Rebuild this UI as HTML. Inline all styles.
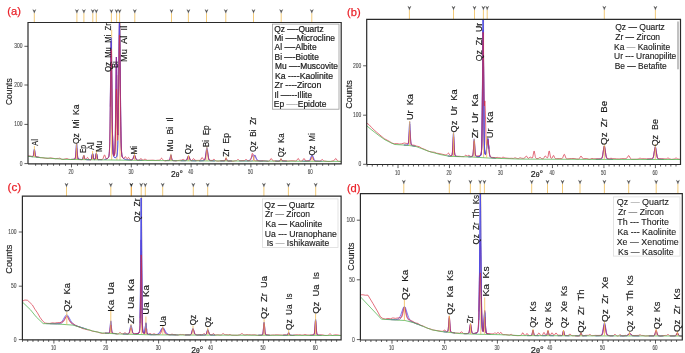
<!DOCTYPE html>
<html><head><meta charset="utf-8"><title>XRD patterns</title><style>
html,body{margin:0;padding:0;background:#fff;width:685px;height:353px;overflow:hidden;}
svg{display:block;}
text{font-family:"Liberation Sans",Arial,sans-serif;stroke:currentColor;stroke-width:0.22px;}
</style></head><body>
<svg width="685" height="353" viewBox="0 0 685 353">
<rect width="685" height="353" fill="#fff"/>
<clipPath id="ca"><rect x="28" y="22.5" width="313.2" height="141.3"/></clipPath>
<line x1="34.3" y1="13.2" x2="34.3" y2="22.5" stroke="#f1c46a" stroke-width="0.9"/>
<path d="M32.8,9.6 L34.3,10.8 L35.8,9.6 L34.3,12.8 Z M34.3,12.4 V13.4" fill="#4a4a4a" stroke="#4a4a4a" stroke-width="0.4"/>
<line x1="76.9" y1="13.2" x2="76.9" y2="22.5" stroke="#f1c46a" stroke-width="0.9"/>
<path d="M75.4,9.6 L76.9,10.8 L78.4,9.6 L76.9,12.8 Z M76.9,12.4 V13.4" fill="#4a4a4a" stroke="#4a4a4a" stroke-width="0.4"/>
<line x1="83.9" y1="13.2" x2="83.9" y2="22.5" stroke="#f1c46a" stroke-width="0.9"/>
<path d="M82.4,9.6 L83.9,10.8 L85.4,9.6 L83.9,12.8 Z M83.9,12.4 V13.4" fill="#4a4a4a" stroke="#4a4a4a" stroke-width="0.4"/>
<line x1="92.8" y1="13.2" x2="92.8" y2="22.5" stroke="#f1c46a" stroke-width="0.9"/>
<path d="M91.3,9.6 L92.8,10.8 L94.3,9.6 L92.8,12.8 Z M92.8,12.4 V13.4" fill="#4a4a4a" stroke="#4a4a4a" stroke-width="0.4"/>
<line x1="96.3" y1="13.2" x2="96.3" y2="22.5" stroke="#f1c46a" stroke-width="0.9"/>
<path d="M94.8,9.6 L96.3,10.8 L97.8,9.6 L96.3,12.8 Z M96.3,12.4 V13.4" fill="#4a4a4a" stroke="#4a4a4a" stroke-width="0.4"/>
<line x1="111.4" y1="13.2" x2="111.4" y2="22.5" stroke="#f1c46a" stroke-width="0.9"/>
<path d="M109.9,9.6 L111.4,10.8 L112.9,9.6 L111.4,12.8 Z M111.4,12.4 V13.4" fill="#4a4a4a" stroke="#4a4a4a" stroke-width="0.4"/>
<line x1="116.6" y1="13.2" x2="116.6" y2="22.5" stroke="#f1c46a" stroke-width="0.9"/>
<path d="M115.1,9.6 L116.6,10.8 L118.1,9.6 L116.6,12.8 Z M116.6,12.4 V13.4" fill="#4a4a4a" stroke="#4a4a4a" stroke-width="0.4"/>
<line x1="119.6" y1="13.2" x2="119.6" y2="22.5" stroke="#f1c46a" stroke-width="0.9"/>
<path d="M118.1,9.6 L119.6,10.8 L121.1,9.6 L119.6,12.8 Z M119.6,12.4 V13.4" fill="#4a4a4a" stroke="#4a4a4a" stroke-width="0.4"/>
<line x1="134.8" y1="13.2" x2="134.8" y2="22.5" stroke="#f1c46a" stroke-width="0.9"/>
<path d="M133.3,9.6 L134.8,10.8 L136.3,9.6 L134.8,12.8 Z M134.8,12.4 V13.4" fill="#4a4a4a" stroke="#4a4a4a" stroke-width="0.4"/>
<line x1="171.5" y1="13.2" x2="171.5" y2="22.5" stroke="#f1c46a" stroke-width="0.9"/>
<path d="M170,9.6 L171.5,10.8 L173,9.6 L171.5,12.8 Z M171.5,12.4 V13.4" fill="#4a4a4a" stroke="#4a4a4a" stroke-width="0.4"/>
<line x1="188.4" y1="13.2" x2="188.4" y2="22.5" stroke="#f1c46a" stroke-width="0.9"/>
<path d="M186.9,9.6 L188.4,10.8 L189.9,9.6 L188.4,12.8 Z M188.4,12.4 V13.4" fill="#4a4a4a" stroke="#4a4a4a" stroke-width="0.4"/>
<line x1="206.5" y1="13.2" x2="206.5" y2="22.5" stroke="#f1c46a" stroke-width="0.9"/>
<path d="M205,9.6 L206.5,10.8 L208,9.6 L206.5,12.8 Z M206.5,12.4 V13.4" fill="#4a4a4a" stroke="#4a4a4a" stroke-width="0.4"/>
<line x1="225.8" y1="13.2" x2="225.8" y2="22.5" stroke="#f1c46a" stroke-width="0.9"/>
<path d="M224.3,9.6 L225.8,10.8 L227.3,9.6 L225.8,12.8 Z M225.8,12.4 V13.4" fill="#4a4a4a" stroke="#4a4a4a" stroke-width="0.4"/>
<line x1="253.5" y1="13.2" x2="253.5" y2="22.5" stroke="#f1c46a" stroke-width="0.9"/>
<path d="M252,9.6 L253.5,10.8 L255,9.6 L253.5,12.8 Z M253.5,12.4 V13.4" fill="#4a4a4a" stroke="#4a4a4a" stroke-width="0.4"/>
<line x1="281.2" y1="13.2" x2="281.2" y2="22.5" stroke="#f1c46a" stroke-width="0.9"/>
<path d="M279.7,9.6 L281.2,10.8 L282.7,9.6 L281.2,12.8 Z M281.2,12.4 V13.4" fill="#4a4a4a" stroke="#4a4a4a" stroke-width="0.4"/>
<line x1="311.8" y1="13.2" x2="311.8" y2="22.5" stroke="#f1c46a" stroke-width="0.9"/>
<path d="M310.3,9.6 L311.8,10.8 L313.3,9.6 L311.8,12.8 Z M311.8,12.4 V13.4" fill="#4a4a4a" stroke="#4a4a4a" stroke-width="0.4"/>
<g clip-path="url(#ca)" fill="none" stroke-linejoin="round">
<line x1="111.7" y1="30" x2="111.7" y2="160.03" stroke="#f0bb55" stroke-width="0.8"/>
<line x1="116.9" y1="75" x2="116.9" y2="160.1" stroke="#f0bb55" stroke-width="0.8"/>
<line x1="120" y1="22.4" x2="120" y2="160.13" stroke="#f0bb55" stroke-width="0.8"/>
<path d="M28.6,156.34 32.2,156.62 32.7,156.55 33,156.32 33.3,155.64 33.5,154.77 34.1,150.54 34.3,149.62 34.4,149.5 34.7,150.6 35.3,154.97 35.5,155.88 35.8,156.62 36.1,156.92 36.7,157.12 40.2,157.59 M70.8,159.44 73.2,159.39 74.4,159.25 74.9,158.99 75.2,158.45 75.5,156.98 75.7,155.14 76.3,146.21 76.5,144.26 76.6,143.99 76.7,144.26 76.9,146.22 77.5,155.16 77.7,157.01 78,158.48 78.4,159.12 79,159.35 81.4,159.5 82,159.47 82.4,159.31 M78,158.48 78.4,159.12 79,159.35 81.1,159.5 81.9,159.48 82.3,159.37 82.6,159.09 82.8,158.7 83.5,156.05 83.8,155.46 84.1,156.06 84.7,158.46 84.9,158.96 85.2,159.36 85.5,159.51 86.1,159.6 89.6,159.67 M86.8,159.63 90.3,159.64 90.9,159.54 91.2,159.33 91.5,158.78 91.7,158.08 92.3,154.7 92.6,153.85 92.7,153.96 92.9,154.69 93.4,157.6 93.7,158.76 93.9,159.17 94.2,159.44 94.6,159.5 94.9,159.38 95.2,158.96 95.4,158.36 96.1,154.27 96.3,153.47 96.4,153.36 96.6,153.8 97.2,157.4 97.5,158.69 97.9,159.4 98.4,159.61 M90.6,159.61 91.1,159.43 91.5,158.78 91.8,157.61 92.3,154.7 92.6,153.85 92.8,154.25 93.4,157.6 93.8,159 94,159.3 94.3,159.48 94.7,159.48 95,159.28 95.3,158.7 95.5,157.94 96.1,154.27 96.3,153.47 96.4,153.36 96.7,154.29 97.4,158.34 97.8,159.3 98.1,159.53 98.7,159.64 102.2,159.68 M104.5,159.36 105.9,159.11 107,158.72 107.8,158.19 108.4,157.49 108.7,156.87 109,155.68 109.4,151.58 109.7,144.02 110,129.56 110.9,52.08 111.1,42.53 111.2,41.24 111.3,42.48 111.5,51.94 112.4,128.98 112.7,143.25 113.1,151.99 113.3,153.79 113.6,155.01 113.9,155.35 114.1,155.3 114.3,155.01 114.5,154.35 114.7,152.96 115,148.01 115.4,130.56 116.1,69.48 116.3,58.58 116.4,57.01 116.5,58.33 116.7,68.7 117.4,125.69 117.6,133.34 117.7,134.94 117.8,135.06 117.9,133.78 M110.3,106.65 110.9,52.08 111.1,42.53 111.2,41.24 111.3,42.48 111.5,51.94 112.3,122.32 112.7,143.25 113,150.59 113.3,153.79 113.6,155.01 113.8,155.3 114,155.35 114.3,155.01 114.6,153.78 114.8,151.81 115,148.01 115.3,136.47 116.1,69.48 116.3,58.58 116.4,57.01 116.5,58.33 116.7,68.7 117.4,125.69 117.6,133.34 117.7,134.94 117.8,135.06 118,131.12 118.3,115.33 119.1,39.17 119.3,25.53 119.5,20.63 119.6,21.99 119.8,31.89 120.6,110 121,136.72 121.3,147.42 121.6,152.79 122,155.82 122.5,157.23 M112.5,134.66 112.9,148.74 113.3,153.79 113.5,154.74 113.7,155.19 114,155.35 114.3,155.01 114.6,153.78 114.9,150.2 115.2,141.29 115.4,130.56 116.1,69.48 116.3,58.58 116.4,57.01 116.5,58.33 116.7,68.7 117.4,125.69 117.6,133.34 117.7,134.94 117.8,135.06 117.9,133.78 118.1,127.12 118.4,107.68 119.2,31.43 119.4,21.84 119.5,20.63 119.7,25.83 119.9,39.79 120.8,125.33 121.1,141.05 121.4,149.66 121.8,154.68 122.1,156.21 122.5,157.23 123.1,158.04 123.9,158.67 124.7,159.05 125.6,159.33 125.7,159.45 126.5,159.6 M126.6,159.62 129.9,159.98 131.5,159.97 132.2,159.78 132.6,159.44 132.9,158.98 134.1,155.58 134.3,155.22 134.5,155.09 134.8,155.49 135,155.96 136,158.94 136.3,159.49 136.7,159.92 137.2,160.15 137.9,160.25 142.4,160.39 M165.1,160.61 168.7,160.55 169.2,160.46 169.5,160.26 169.8,159.73 170,159.05 170.6,155.81 170.9,155 171.2,155.81 171.8,159.06 172,159.74 172.3,160.28 172.6,160.48 173.2,160.59 176.7,160.69 M180.6,160.72 185,160.69 185.7,160.63 186.2,160.47 186.6,160.16 186.9,159.73 188.1,156.65 188.3,156.32 188.5,156.2 188.7,156.32 188.9,156.65 190.1,159.76 190.4,160.18 190.8,160.5 191.3,160.66 192,160.73 196.4,160.82 M199,160.83 203.4,160.67 204.1,160.49 204.6,160.05 205,159.2 205.4,157.55 206.5,149.71 206.7,148.82 206.9,148.5 207.1,148.82 207.3,149.72 208.5,158.06 208.8,159.22 209.2,160.07 209.7,160.51 210.4,160.7 214.8,160.9 M220.3,160.95 223.8,160.94 224.7,160.81 225.2,160.28 225.8,158.85 226.1,158.5 226.4,158.86 227,160.29 227.5,160.82 228.3,160.96 231.9,161.01 M247.1,161.04 251.5,160.97 252.2,160.88 252.7,160.67 253.1,160.25 253.4,159.68 254.6,155.59 254.8,155.16 255,155 255.2,155.16 255.4,155.6 256.6,159.69 256.9,160.26 257.3,160.68 257.8,160.9 258.5,160.99 262.9,161.1 M275.2,161.16 278.8,161.14 279.6,161.03 280.1,160.56 280.7,159.31 281,159 281.3,159.31 281.9,160.57 282.4,161.04 283.2,161.16 286.8,161.2 M303.6,161.24 308.3,161.17 309.1,161.08 309.6,160.88 310,160.52 310.4,159.87 311.6,156.47 311.9,155.91 312.1,155.8 312.3,155.92 312.6,156.47 313.8,159.88 314.2,160.53 314.6,160.89 315.1,161.1 315.9,161.2 320.6,161.3" stroke="#8a2a9a" stroke-width="0.8" opacity="0.75"/>
<path d="M28.6,156.34 32.2,156.61 32.7,156.53 33,156.28 33.3,155.56 33.5,154.63 34.1,150.11 34.3,149.13 34.4,149 34.7,150.17 35.3,154.83 35.5,155.8 35.8,156.58 36.1,156.9 36.7,157.11 40.2,157.59 M70.8,159.44 73.2,159.38 74.4,159.23 74.9,158.97 75.2,158.39 75.5,156.85 75.7,154.91 76.3,145.52 76.5,143.47 76.6,143.19 76.7,143.48 76.9,145.53 77.5,154.93 77.7,156.88 78,158.42 78.4,159.1 79,159.33 81.4,159.5 82,159.46 82.4,159.29 M78,158.42 78.4,159.1 79,159.33 81.1,159.5 81.9,159.47 82.3,159.36 82.6,159.06 82.8,158.66 83.5,155.88 83.8,155.26 84.1,155.89 84.7,158.41 84.9,158.93 85.2,159.35 85.5,159.5 86.1,159.59 89.6,159.67 M86.8,159.63 90.3,159.63 90.9,159.53 91.2,159.32 91.5,158.74 91.7,158.02 92.3,154.52 92.5,153.76 92.6,153.65 92.7,153.76 92.9,154.52 93.4,157.53 93.7,158.73 93.9,159.15 94.2,159.44 94.6,159.5 94.9,159.37 95.2,158.95 95.4,158.36 96.1,154.27 96.3,153.47 96.4,153.36 96.6,153.8 97.2,157.4 97.5,158.68 97.9,159.4 98.4,159.6 M90.6,159.6 91.1,159.41 91.5,158.74 91.8,157.54 92.3,154.52 92.5,153.76 92.6,153.65 92.8,154.06 93.4,157.53 93.8,158.97 94,159.28 94.3,159.47 94.7,159.47 95,159.28 95.3,158.7 95.5,157.94 96.1,154.27 96.3,153.47 96.4,153.36 96.7,154.29 97.4,158.34 97.8,159.29 98.1,159.52 98.7,159.64 102.2,159.67 M104.5,159.42 105.9,159.18 107,158.8 107.8,158.29 108.4,157.59 108.7,156.96 109,155.75 109.4,151.53 109.7,143.73 110,128.81 110.9,48.8 111.1,38.95 111.2,37.64 111.3,38.94 111.5,48.75 112.4,128.63 112.7,143.5 113,151.23 113.4,155.37 113.7,156.51 114,157.06 114.6,157.55 115,157.67 115.4,157.66 116.1,157.33 116.7,156.53 117.1,155.14 117.4,152.65 117.7,147.23 117.9,140.75 M112.5,134.54 112.9,149.27 113.2,153.87 113.6,156.23 114.1,157.18 114.8,157.63 115.3,157.67 115.7,157.57 116.4,157.02 116.8,156.29 117.1,155.14 117.5,151.28 117.8,144.35 118.1,131.01 118.4,109.01 119.2,29.08 119.4,20.5 119.6,20.5 119.9,37.21 120.8,124.9 121.1,141.01 121.4,149.81 121.8,154.91 122.1,156.45 122.4,157.26 123,158.13 123.8,158.77 124.6,159.15 125.6,159.44 125.7,159.56 126.5,159.7 M126.6,159.71 128.5,159.9 130.6,159.98 131.6,159.95 132.2,159.76 132.6,159.41 132.9,158.93 134.1,155.4 134.3,155.02 134.5,154.89 134.8,155.3 135,155.79 136,158.89 136.3,159.46 136.7,159.91 137.2,160.14 137.9,160.25 142.4,160.39 M165.1,160.6 168.7,160.54 169.2,160.44 169.5,160.22 169.8,159.64 170,158.91 170.6,155.38 170.8,154.61 170.9,154.5 171,154.61 171.2,155.38 171.8,158.92 172,159.66 172.3,160.24 172.6,160.46 173.2,160.58 176.7,160.69 M180.6,160.72 185,160.68 185.7,160.61 186.2,160.44 186.6,160.1 186.9,159.64 188.1,156.29 188.3,155.93 188.5,155.8 188.7,155.93 188.9,156.29 190.1,159.66 190.4,160.12 190.8,160.47 191.3,160.65 192,160.72 196.4,160.82 M199,160.83 201.7,160.78 203.4,160.65 204.1,160.45 204.6,159.98 205,159.05 205.4,157.25 206.5,148.72 206.7,147.75 206.9,147.4 207.1,147.75 207.3,148.72 208.5,157.81 208.8,159.06 209.2,160 209.7,160.47 210.4,160.68 214.8,160.9 M220.3,160.95 223.8,160.93 224.7,160.79 225.2,160.22 225.8,158.67 226.1,158.29 226.4,158.67 227,160.22 227.5,160.8 228.4,160.94 231.9,160.99 M239.2,161 246.6,160.92 248,160.78 248.9,160.52 249.6,160.12 250.3,159.45 251.1,158.32 252.7,155.56 253.2,155 253.7,154.8 254.2,155 254.7,155.57 256.3,158.33 257.1,159.47 257.8,160.15 258.5,160.56 259.4,160.82 260.8,160.97 268.2,161.11 M275.2,161.14 278.7,161.13 279.6,161 280.1,160.5 280.7,159.13 281,158.79 281.3,159.13 281.9,160.5 282.4,161.02 283.7,161.17 286.8,161.2 M301.8,161.23 307.3,161.15 308.3,161.02 308.9,160.78 309.4,160.37 309.9,159.64 311.5,155.66 311.8,155.17 312.1,155 312.4,155.17 312.7,155.66 314.3,159.66 314.8,160.39 315.3,160.81 315.9,161.05 316.9,161.18 322.4,161.3" stroke="#4a4ae6" stroke-width="0.8" opacity="0.85"/>
<path d="M28,156 30.5,156.09 32.5,156.52 33,156.37 33.3,155.79 33.5,155.04 34.1,151.39 34.3,150.6 34.4,150.5 34.7,151.46 35.2,154.74 35.5,156.06 35.8,156.66 36.3,156.93 38,156.98 40.5,157.59 43,157.76 45.5,158.28 48,158.4 50.5,157.89 55.5,158.71 58,158.39 58.7,158.43 59.8,158.16 60.2,158.3 61.5,159.23 62.1,159.4 63,159.5 65.5,158.82 66.8,158.58 67.3,158.66 68.7,159.26 70.5,159.52 74.2,159.16 74.7,159.03 75,158.82 75.4,157.88 75.8,155.18 76.4,148.72 76.6,147.99 76.7,148.2 76.9,149.68 77.4,155.46 77.7,157.79 78,158.92 78.2,159.24 78.6,159.47 81.6,159.68 82.1,159.65 82.4,159.54 82.7,159.19 82.9,158.73 83.5,156.37 83.8,155.75 83.9,155.8 84.1,156.27 84.7,158.47 84.9,158.91 85.2,159.23 85.7,159.28 86.1,159.11 86.5,158.69 87.2,157.63 87.5,157.44 87.9,157.73 88.6,158.92 89,159.36 89.5,159.64 90.5,159.88 91.1,159.54 91.5,158.88 91.8,157.82 92.3,155.23 92.6,154.44 92.7,154.49 92.9,155.05 93.4,157.58 93.8,158.87 94,159.19 94.3,159.43 94.6,159.53 94.9,159.51 95.2,159.21 95.5,158.37 96.1,154.85 96.4,153.95 96.5,154.04 96.7,154.75 97.4,158.35 97.7,159.04 98.2,159.36 99.3,159.48 101.4,159.52 102.1,159.45 102.5,159.29 102.8,159.02 103.1,158.53 104.1,155.53 104.3,155.12 104.6,154.91 104.9,155.43 105.7,157.84 106.2,158.63 106.6,158.79 107.1,158.68 107.7,158.3 108.3,157.7 108.6,157.22 108.9,156.35 109.3,153.45 109.6,147.97 109.8,141.39 110.2,118.19 110.9,59.45 111.1,50.57 111.2,49.39 111.3,50.55 111.5,59.38 112.3,125.05 112.7,144.6 113,151.5 113.3,154.52 113.5,155.43 113.7,155.89 114,156.13 114.3,155.97 114.6,155.17 114.8,153.84 115.2,146.69 115.5,134.56 116.1,97.79 116.3,90.36 116.4,89.28 116.5,90.17 116.7,97.18 117.4,135.27 117.6,139.85 117.7,140.47 117.9,138.34 118.1,131.74 118.4,113.78 119.2,44.8 119.4,36.1 119.5,34.98 119.6,36.16 119.8,44.98 120.6,114.92 121.1,142.85 121.4,150.62 121.7,154.41 121.9,155.75 122.2,156.87 122.6,157.68 123.1,158.25 123.6,158.42 124,158.31 124.4,157.95 125.2,156.82 125.5,156.67 125.9,157.16 126.6,158.34 126.9,158.63 127.1,158.67 127.4,158.53 128.2,157.54 128.5,157.4 128.9,157.73 129.7,159.13 130.2,159.64 130.8,159.84 131.8,159.74 132.4,159.44 132.8,158.97 133.2,158.19 134.1,155.81 134.3,155.49 134.5,155.37 135,156.13 135.8,158.37 136.3,159.4 136.9,160.01 138,160.44 138.9,160.32 139.4,160.09 139.8,159.72 140.6,158.63 141,158.45 141.4,158.74 142.4,160.09 143,160.4 143.6,160.17 144.6,159 145,158.76 145.4,158.98 146.4,160.08 147.1,160.35 153,160.15 155.5,160.46 158,160.21 159.2,160.25 159.6,160.16 160,159.93 161.2,158.4 161.6,158.19 162,158.46 162.9,159.82 163.5,160.41 164.2,160.68 165.5,160.81 168,160.16 169.1,160.31 169.4,160.25 169.6,160.09 170,159.18 170.6,156.26 170.9,155.49 171.1,155.83 171.7,158.82 172.1,160.06 172.5,160.46 173.5,160.64 175.5,160.86 180.5,160.2 181.3,160.19 181.8,160.04 182.7,159.46 183.1,159.35 183.5,159.47 184.2,159.98 184.7,160.22 185.8,160.32 186.2,160.26 186.6,160.01 187,159.44 188.1,156.51 188.3,156.13 188.5,155.97 188.7,156.08 188.9,156.41 190.1,159.61 190.6,160.21 191.1,160.48 191.6,160.49 192.1,160.24 193.2,158.82 193.5,158.63 193.9,158.83 194.8,159.98 195.4,160.31 196.6,160.43 199.9,160.34 200.3,160.17 200.7,159.78 201.7,157.86 202.1,157.47 202.3,157.55 202.5,157.8 203.6,159.78 203.9,160.03 204.3,160.11 204.6,159.95 204.8,159.7 205.3,158.37 205.7,156.33 206.5,151.06 206.7,150.26 206.9,149.97 207.1,150.23 207.3,151 208.5,158.21 208.9,159.43 209.3,160.02 209.6,160.22 210,160.33 212.1,160.45 212.7,160.21 213.6,159.39 214,159.24 214.3,159.37 215.2,160.32 215.8,160.73 216.5,160.94 218,161.16 220.5,160.78 223,160.62 224.2,160.78 224.7,160.72 225,160.47 225.2,160.14 225.8,158.42 226.1,158 226.4,158.46 226.9,160.05 227.2,160.69 227.5,161.01 228,161.19 230.5,160.86 233,161.23 235.5,160.68 236.4,160.59 236.8,160.36 237.6,159.63 237.9,159.49 238.4,159.63 239.4,160.51 240.1,160.71 244.2,160.61 244.7,160.42 245.7,159.59 246,159.46 246.3,159.53 247.2,160.26 247.7,160.5 248.5,160.57 249.7,160.43 250.1,160.28 250.4,160.04 250.9,159.15 251.3,157.67 252,154.17 252.2,153.52 252.4,153.29 252.6,153.55 252.8,154.24 253.6,158.31 254,159.67 254.3,160.24 254.6,160.55 255.5,160.87 258,160.69 260.5,160.98 263,160.76 265.5,160.93 268,161.33 268.9,161.1 269.5,160.76 270,160.16 270.8,158.76 271.2,158.5 271.6,158.83 272.7,160.59 273,160.84 273.5,160.96 275.5,160.89 278,161.41 279.1,161.19 279.6,161.02 279.9,160.8 280.7,159.47 281,159.19 281.3,159.42 282,160.47 282.5,160.71 285.5,160.77 288,161.14 290.5,160.75 293,160.79 295.5,161.01 296.2,160.84 296.7,160.5 297.8,158.76 298,158.53 298.2,158.48 298.6,158.84 299.4,160.27 299.8,160.76 300.4,161.12 300.9,161.15 301.8,161.02 302.4,160.69 302.8,160.19 303.6,158.77 303.8,158.54 304,158.47 304.4,158.81 305.3,160.41 305.8,160.85 306.5,160.95 308,160.77 309.3,160.88 309.9,160.7 310.4,160.23 311.6,157.63 311.9,157.19 312.1,157.09 312.3,157.15 312.6,157.53 313.6,159.76 314.1,160.55 314.7,161.04 315.5,161.31 318,161.17 319.6,161.27 320.2,161.21 320.7,160.91 321.7,159.66 322.1,159.47 322.5,159.66 323.6,160.69 324.4,161.02 328,161.52 330.5,161.48 333.9,160.66 334.5,160.1 335.4,158.73 335.8,158.5 336.2,158.8 337.3,160.62 337.9,161.15 338.8,161.37 341.2,161.48" stroke="#d62a3e" stroke-width="0.8" opacity="0.85"/>
<path d="M28,156.3 40,157.6 65,159.4 150,160.5 200,160.9 341.2,161.4" stroke="#5cb85c" stroke-width="0.9" opacity="0.9"/>
<line x1="34.4" y1="146.1" x2="34.4" y2="156.99" stroke="#f0bb55" stroke-width="0.8"/>
<line x1="76.6" y1="143.2" x2="76.6" y2="159.57" stroke="#f0bb55" stroke-width="0.8"/>
<line x1="83.8" y1="155" x2="83.8" y2="159.67" stroke="#f0bb55" stroke-width="0.8"/>
<line x1="92.6" y1="151" x2="92.6" y2="159.79" stroke="#f0bb55" stroke-width="0.8"/>
<line x1="96.4" y1="149.9" x2="96.4" y2="159.85" stroke="#f0bb55" stroke-width="0.8"/>
<line x1="134.5" y1="152" x2="134.5" y2="160.31" stroke="#f0bb55" stroke-width="0.8"/>
<line x1="170.9" y1="153.7" x2="170.9" y2="160.67" stroke="#f0bb55" stroke-width="0.8"/>
<line x1="188.5" y1="155" x2="188.5" y2="160.81" stroke="#f0bb55" stroke-width="0.8"/>
<line x1="206.9" y1="146" x2="206.9" y2="160.92" stroke="#f0bb55" stroke-width="0.8"/>
<line x1="226.1" y1="156.5" x2="226.1" y2="160.99" stroke="#f0bb55" stroke-width="0.8"/>
<line x1="253.7" y1="156" x2="253.7" y2="161.09" stroke="#f0bb55" stroke-width="0.8"/>
<line x1="281" y1="158" x2="281" y2="161.19" stroke="#f0bb55" stroke-width="0.8"/>
<line x1="312.1" y1="157" x2="312.1" y2="161.3" stroke="#f0bb55" stroke-width="0.8"/>
</g>
<path d="M28,163.8 V22.5 H341.2 V163.8 H28" fill="none" stroke="#2a2a2a" stroke-width="1.2"/>
<line x1="35.62" y1="163.8" x2="35.62" y2="165.8" stroke="#333" stroke-width="0.8"/>
<line x1="41.6" y1="163.8" x2="41.6" y2="165.8" stroke="#333" stroke-width="0.8"/>
<line x1="47.58" y1="163.8" x2="47.58" y2="165.8" stroke="#333" stroke-width="0.8"/>
<line x1="53.56" y1="163.8" x2="53.56" y2="165.8" stroke="#333" stroke-width="0.8"/>
<line x1="59.54" y1="163.8" x2="59.54" y2="165.8" stroke="#333" stroke-width="0.8"/>
<line x1="65.52" y1="163.8" x2="65.52" y2="165.8" stroke="#333" stroke-width="0.8"/>
<line x1="71.5" y1="163.8" x2="71.5" y2="167.4" stroke="#333" stroke-width="0.8"/>
<line x1="77.48" y1="163.8" x2="77.48" y2="165.8" stroke="#333" stroke-width="0.8"/>
<line x1="83.46" y1="163.8" x2="83.46" y2="165.8" stroke="#333" stroke-width="0.8"/>
<line x1="89.44" y1="163.8" x2="89.44" y2="165.8" stroke="#333" stroke-width="0.8"/>
<line x1="95.42" y1="163.8" x2="95.42" y2="165.8" stroke="#333" stroke-width="0.8"/>
<line x1="101.4" y1="163.8" x2="101.4" y2="165.8" stroke="#333" stroke-width="0.8"/>
<line x1="107.38" y1="163.8" x2="107.38" y2="165.8" stroke="#333" stroke-width="0.8"/>
<line x1="113.36" y1="163.8" x2="113.36" y2="165.8" stroke="#333" stroke-width="0.8"/>
<line x1="119.34" y1="163.8" x2="119.34" y2="165.8" stroke="#333" stroke-width="0.8"/>
<line x1="125.32" y1="163.8" x2="125.32" y2="165.8" stroke="#333" stroke-width="0.8"/>
<line x1="131.3" y1="163.8" x2="131.3" y2="167.4" stroke="#333" stroke-width="0.8"/>
<line x1="137.28" y1="163.8" x2="137.28" y2="165.8" stroke="#333" stroke-width="0.8"/>
<line x1="143.26" y1="163.8" x2="143.26" y2="165.8" stroke="#333" stroke-width="0.8"/>
<line x1="149.24" y1="163.8" x2="149.24" y2="165.8" stroke="#333" stroke-width="0.8"/>
<line x1="155.22" y1="163.8" x2="155.22" y2="165.8" stroke="#333" stroke-width="0.8"/>
<line x1="161.2" y1="163.8" x2="161.2" y2="165.8" stroke="#333" stroke-width="0.8"/>
<line x1="167.18" y1="163.8" x2="167.18" y2="165.8" stroke="#333" stroke-width="0.8"/>
<line x1="173.16" y1="163.8" x2="173.16" y2="165.8" stroke="#333" stroke-width="0.8"/>
<line x1="179.14" y1="163.8" x2="179.14" y2="165.8" stroke="#333" stroke-width="0.8"/>
<line x1="185.12" y1="163.8" x2="185.12" y2="165.8" stroke="#333" stroke-width="0.8"/>
<line x1="191.1" y1="163.8" x2="191.1" y2="167.4" stroke="#333" stroke-width="0.8"/>
<line x1="197.08" y1="163.8" x2="197.08" y2="165.8" stroke="#333" stroke-width="0.8"/>
<line x1="203.06" y1="163.8" x2="203.06" y2="165.8" stroke="#333" stroke-width="0.8"/>
<line x1="209.04" y1="163.8" x2="209.04" y2="165.8" stroke="#333" stroke-width="0.8"/>
<line x1="215.02" y1="163.8" x2="215.02" y2="165.8" stroke="#333" stroke-width="0.8"/>
<line x1="221" y1="163.8" x2="221" y2="165.8" stroke="#333" stroke-width="0.8"/>
<line x1="226.98" y1="163.8" x2="226.98" y2="165.8" stroke="#333" stroke-width="0.8"/>
<line x1="232.96" y1="163.8" x2="232.96" y2="165.8" stroke="#333" stroke-width="0.8"/>
<line x1="238.94" y1="163.8" x2="238.94" y2="165.8" stroke="#333" stroke-width="0.8"/>
<line x1="244.92" y1="163.8" x2="244.92" y2="165.8" stroke="#333" stroke-width="0.8"/>
<line x1="250.9" y1="163.8" x2="250.9" y2="167.4" stroke="#333" stroke-width="0.8"/>
<line x1="256.88" y1="163.8" x2="256.88" y2="165.8" stroke="#333" stroke-width="0.8"/>
<line x1="262.86" y1="163.8" x2="262.86" y2="165.8" stroke="#333" stroke-width="0.8"/>
<line x1="268.84" y1="163.8" x2="268.84" y2="165.8" stroke="#333" stroke-width="0.8"/>
<line x1="274.82" y1="163.8" x2="274.82" y2="165.8" stroke="#333" stroke-width="0.8"/>
<line x1="280.8" y1="163.8" x2="280.8" y2="165.8" stroke="#333" stroke-width="0.8"/>
<line x1="286.78" y1="163.8" x2="286.78" y2="165.8" stroke="#333" stroke-width="0.8"/>
<line x1="292.76" y1="163.8" x2="292.76" y2="165.8" stroke="#333" stroke-width="0.8"/>
<line x1="298.74" y1="163.8" x2="298.74" y2="165.8" stroke="#333" stroke-width="0.8"/>
<line x1="304.72" y1="163.8" x2="304.72" y2="165.8" stroke="#333" stroke-width="0.8"/>
<line x1="310.7" y1="163.8" x2="310.7" y2="167.4" stroke="#333" stroke-width="0.8"/>
<line x1="316.68" y1="163.8" x2="316.68" y2="165.8" stroke="#333" stroke-width="0.8"/>
<line x1="322.66" y1="163.8" x2="322.66" y2="165.8" stroke="#333" stroke-width="0.8"/>
<line x1="328.64" y1="163.8" x2="328.64" y2="165.8" stroke="#333" stroke-width="0.8"/>
<line x1="334.62" y1="163.8" x2="334.62" y2="165.8" stroke="#333" stroke-width="0.8"/>
<text transform="translate(68.6,173.86) scale(1,1)" font-size="6.6" fill="#4a4a4a" color="#4a4a4a" textLength="5" lengthAdjust="spacingAndGlyphs" style="stroke-width:0.12px">20</text>
<text transform="translate(128.4,173.86) scale(1,1)" font-size="6.6" fill="#4a4a4a" color="#4a4a4a" textLength="5" lengthAdjust="spacingAndGlyphs" style="stroke-width:0.12px">30</text>
<text transform="translate(188.2,173.86) scale(1,1)" font-size="6.6" fill="#4a4a4a" color="#4a4a4a" textLength="5" lengthAdjust="spacingAndGlyphs" style="stroke-width:0.12px">40</text>
<text transform="translate(248,173.86) scale(1,1)" font-size="6.6" fill="#4a4a4a" color="#4a4a4a" textLength="5" lengthAdjust="spacingAndGlyphs" style="stroke-width:0.12px">50</text>
<text transform="translate(307.8,173.86) scale(1,1)" font-size="6.6" fill="#4a4a4a" color="#4a4a4a" textLength="5" lengthAdjust="spacingAndGlyphs" style="stroke-width:0.12px">60</text>
<line x1="24.4" y1="163.6" x2="28" y2="163.6" stroke="#333" stroke-width="0.8"/>
<text transform="translate(19.85,165.63) scale(1,1)" font-size="6.8" fill="#4a4a4a" color="#4a4a4a" textLength="2.75" lengthAdjust="spacingAndGlyphs" style="stroke-width:0.12px">0</text>
<line x1="24.4" y1="124.4" x2="28" y2="124.4" stroke="#333" stroke-width="0.8"/>
<text transform="translate(14.35,126.43) scale(1,1)" font-size="6.8" fill="#4a4a4a" color="#4a4a4a" textLength="8.25" lengthAdjust="spacingAndGlyphs" style="stroke-width:0.12px">100</text>
<line x1="24.4" y1="85" x2="28" y2="85" stroke="#333" stroke-width="0.8"/>
<text transform="translate(14.35,87.03) scale(1,1)" font-size="6.8" fill="#4a4a4a" color="#4a4a4a" textLength="8.25" lengthAdjust="spacingAndGlyphs" style="stroke-width:0.12px">200</text>
<line x1="24.4" y1="46.3" x2="28" y2="46.3" stroke="#333" stroke-width="0.8"/>
<text transform="translate(14.35,48.33) scale(1,1)" font-size="6.8" fill="#4a4a4a" color="#4a4a4a" textLength="8.25" lengthAdjust="spacingAndGlyphs" style="stroke-width:0.12px">300</text>
<text transform="translate(11.65,105) rotate(-90)" font-size="8.8" fill="#222" color="#222" textLength="26.6" lengthAdjust="spacingAndGlyphs" style="stroke-width:0.16px">Counts</text>
<text transform="translate(171.1,177.06) scale(1,0.9)" font-size="9.5" fill="#222" color="#222" textLength="11.8" lengthAdjust="spacingAndGlyphs">2<tspan font-size="7.41" dy="0">θ</tspan>°</text>
<text transform="translate(7.3,15.47) scale(1,1)" font-size="11.3" fill="#ea1f27" color="#ea1f27" textLength="13.6" lengthAdjust="spacingAndGlyphs" style="stroke-width:0.25px">(a)</text>
<text transform="translate(37.65,145.7) rotate(-90)" font-size="8.8" fill="#1a1a1a" color="#1a1a1a" textLength="6.5" lengthAdjust="spacingAndGlyphs" style="stroke-width:0.16px">Al</text>
<text transform="translate(79.35,144.1) rotate(-90)" font-size="8.8" fill="#1a1a1a" color="#1a1a1a" textLength="39.6" lengthAdjust="spacingAndGlyphs" style="stroke-width:0.16px">Qz  Mi  Ka</text>
<text transform="translate(85.75,153.1) rotate(-90)" font-size="8.8" fill="#1a1a1a" color="#1a1a1a" textLength="8.2" lengthAdjust="spacingAndGlyphs" style="stroke-width:0.16px">Ep</text>
<text transform="translate(93.75,150) rotate(-90)" font-size="8.8" fill="#1a1a1a" color="#1a1a1a" textLength="7.6" lengthAdjust="spacingAndGlyphs" style="stroke-width:0.16px">Al</text>
<text transform="translate(102.05,151.9) rotate(-90)" font-size="8.8" fill="#1a1a1a" color="#1a1a1a" textLength="11" lengthAdjust="spacingAndGlyphs" style="stroke-width:0.16px">Mu</text>
<text transform="translate(110.75,72) rotate(-90)" font-size="8.8" fill="#1a1a1a" color="#1a1a1a" textLength="48.9" lengthAdjust="spacingAndGlyphs" style="stroke-width:0.16px">Qz  Mu  Mi  Zr</text>
<text transform="translate(118.05,67.8) rotate(-90)" font-size="8.8" fill="#1a1a1a" color="#1a1a1a" textLength="6.3" lengthAdjust="spacingAndGlyphs" style="stroke-width:0.16px">Bi</text>
<text transform="translate(126.75,62) rotate(-90)" font-size="8.8" fill="#1a1a1a" color="#1a1a1a" textLength="36.2" lengthAdjust="spacingAndGlyphs" style="stroke-width:0.16px">Mu  Al  Il</text>
<text transform="translate(137.05,154.5) rotate(-90)" font-size="8.8" fill="#1a1a1a" color="#1a1a1a" textLength="8.7" lengthAdjust="spacingAndGlyphs" style="stroke-width:0.16px">Mi</text>
<text transform="translate(173.25,151.4) rotate(-90)" font-size="8.8" fill="#1a1a1a" color="#1a1a1a" textLength="33.9" lengthAdjust="spacingAndGlyphs" style="stroke-width:0.16px">Mu  Bi  Il</text>
<text transform="translate(191.25,154.2) rotate(-90)" font-size="8.8" fill="#1a1a1a" color="#1a1a1a" textLength="10.2" lengthAdjust="spacingAndGlyphs" style="stroke-width:0.16px">Qz</text>
<text transform="translate(209.15,147.2) rotate(-90)" font-size="8.8" fill="#1a1a1a" color="#1a1a1a" textLength="21.9" lengthAdjust="spacingAndGlyphs" style="stroke-width:0.16px">Bi  Ep</text>
<text transform="translate(228.85,156.7) rotate(-90)" font-size="8.8" fill="#1a1a1a" color="#1a1a1a" textLength="23.7" lengthAdjust="spacingAndGlyphs" style="stroke-width:0.16px">Zr  Ep</text>
<text transform="translate(256.15,152.1) rotate(-90)" font-size="8.8" fill="#1a1a1a" color="#1a1a1a" textLength="35.2" lengthAdjust="spacingAndGlyphs" style="stroke-width:0.16px">Qz  Bi  Zr</text>
<text transform="translate(284.05,157.3) rotate(-90)" font-size="8.8" fill="#1a1a1a" color="#1a1a1a" textLength="24" lengthAdjust="spacingAndGlyphs" style="stroke-width:0.16px">Qz  Ka</text>
<text transform="translate(314.65,155.5) rotate(-90)" font-size="8.8" fill="#1a1a1a" color="#1a1a1a" textLength="22.2" lengthAdjust="spacingAndGlyphs" style="stroke-width:0.16px">Qz  Mi</text>
<rect x="272.4" y="24.1" width="66.6" height="85.1" fill="#fff" stroke="#9a9a9a" stroke-width="0.8"/>
<text transform="translate(274.2,31.56) scale(1,0.95)" font-size="9" fill="#1a1a1a" color="#1a1a1a" textLength="49.4" lengthAdjust="spacingAndGlyphs">Qz —-Quartz</text>
<text transform="translate(274.2,41.02) scale(1,0.95)" font-size="9" fill="#1a1a1a" color="#1a1a1a" textLength="60.9" lengthAdjust="spacingAndGlyphs">Mi —-Microcline</text>
<text transform="translate(274.6,50.49) scale(1,0.95)" font-size="9" fill="#1a1a1a" color="#1a1a1a" textLength="42" lengthAdjust="spacingAndGlyphs">Al —-Albite</text>
<text transform="translate(274.6,59.95) scale(1,0.95)" font-size="9" fill="#1a1a1a" color="#1a1a1a" textLength="44.2" lengthAdjust="spacingAndGlyphs">Bi —-Biotite</text>
<text transform="translate(275,69.41) scale(1,0.95)" font-size="9" fill="#1a1a1a" color="#1a1a1a" textLength="63" lengthAdjust="spacingAndGlyphs">Mu —-Muscovite</text>
<text transform="translate(275,78.87) scale(1,0.95)" font-size="9" fill="#1a1a1a" color="#1a1a1a" textLength="58" lengthAdjust="spacingAndGlyphs">Ka ----Kaolinite</text>
<text transform="translate(274.6,88.34) scale(1,0.95)" font-size="9" fill="#1a1a1a" color="#1a1a1a" textLength="46.7" lengthAdjust="spacingAndGlyphs">Zr ----Zircon</text>
<text transform="translate(274.4,97.8) scale(1,0.95)" font-size="9" fill="#1a1a1a" color="#1a1a1a" textLength="37.6" lengthAdjust="spacingAndGlyphs">Il —---Illite</text>
<text transform="translate(273.8,107.26) scale(1,0.95)" font-size="9" fill="#1a1a1a" color="#1a1a1a" textLength="52.6" lengthAdjust="spacingAndGlyphs">Ep <tspan fill="#b0b0b0" color="#b0b0b0">—-</tspan>Epidote</text>
<clipPath id="cb"><rect x="366.7" y="19.3" width="313.8" height="145.2"/></clipPath>
<line x1="409.4" y1="9.9" x2="409.4" y2="19.3" stroke="#f1c46a" stroke-width="0.9"/>
<path d="M407.9,6.3 L409.4,7.5 L410.9,6.3 L409.4,9.5 Z M409.4,9.1 V10.1" fill="#4a4a4a" stroke="#4a4a4a" stroke-width="0.4"/>
<line x1="453.5" y1="9.9" x2="453.5" y2="19.3" stroke="#f1c46a" stroke-width="0.9"/>
<path d="M452,6.3 L453.5,7.5 L455,6.3 L453.5,9.5 Z M453.5,9.1 V10.1" fill="#4a4a4a" stroke="#4a4a4a" stroke-width="0.4"/>
<line x1="474.5" y1="9.9" x2="474.5" y2="19.3" stroke="#f1c46a" stroke-width="0.9"/>
<path d="M473,6.3 L474.5,7.5 L476,6.3 L474.5,9.5 Z M474.5,9.1 V10.1" fill="#4a4a4a" stroke="#4a4a4a" stroke-width="0.4"/>
<line x1="483.4" y1="9.9" x2="483.4" y2="19.3" stroke="#f1c46a" stroke-width="0.9"/>
<path d="M481.9,6.3 L483.4,7.5 L484.9,6.3 L483.4,9.5 Z M483.4,9.1 V10.1" fill="#4a4a4a" stroke="#4a4a4a" stroke-width="0.4"/>
<line x1="487.2" y1="9.9" x2="487.2" y2="19.3" stroke="#f1c46a" stroke-width="0.9"/>
<path d="M485.7,6.3 L487.2,7.5 L488.7,6.3 L487.2,9.5 Z M487.2,9.1 V10.1" fill="#4a4a4a" stroke="#4a4a4a" stroke-width="0.4"/>
<line x1="604.3" y1="9.9" x2="604.3" y2="19.3" stroke="#f1c46a" stroke-width="0.9"/>
<path d="M602.8,6.3 L604.3,7.5 L605.8,6.3 L604.3,9.5 Z M604.3,9.1 V10.1" fill="#4a4a4a" stroke="#4a4a4a" stroke-width="0.4"/>
<line x1="655.4" y1="9.9" x2="655.4" y2="19.3" stroke="#f1c46a" stroke-width="0.9"/>
<path d="M653.9,6.3 L655.4,7.5 L656.9,6.3 L655.4,9.5 Z M655.4,9.1 V10.1" fill="#4a4a4a" stroke="#4a4a4a" stroke-width="0.4"/>
<g clip-path="url(#cb)" fill="none" stroke-linejoin="round">
<line x1="483.6" y1="18.8" x2="483.6" y2="157.69" stroke="#f0bb55" stroke-width="0.8"/>
<path d="M403.9,145.02 406.2,145.13 407.5,145.01 408,144.69 408.3,143.96 408.6,141.95 408.8,139.4 409.4,127.05 409.6,124.36 409.7,124 409.8,124.39 410,127.12 410.6,139.61 410.8,142.21 411.1,144.28 411.4,145.09 411.9,145.52 413.2,145.94 415.5,146.37 M447.7,155.9 450,156.23 451.1,156.09 451.7,155.78 451.9,155.49 452.1,154.87 452.4,152.76 452.6,150.09 453.2,137.2 453.4,134.39 453.5,134 453.6,134.39 453.8,137.21 454.4,150.14 454.6,152.82 454.9,154.94 455.2,155.75 455.7,156.14 457,156.41 459.3,156.57 M468.4,156.81 470.4,156.82 470.5,156.74 472,156.59 472.5,156.33 472.8,155.73 473.1,154.12 473.3,152.09 473.9,142.26 474.1,140.12 474.2,139.82 474.3,140.12 474.5,142.27 475.1,152.13 475.3,154.17 475.6,155.79 476,156.49 476.4,156.67 477,156.76 478.7,156.68 479.4,156.49 480,156.18 M477.3,156.78 478.5,156.71 479.5,156.45 480.2,156.03 480.8,155.31 481.2,154.22 481.4,152.99 481.7,148.49 482,136.46 482.2,121.27 482.8,47.99 483,31.98 483.1,29.78 483.2,31.98 483.4,47.98 484,121.23 484.2,136.4 484.5,148.39 484.7,151.83 485,153.94 485.2,154.45 485.4,154.61 485.6,154.51 485.8,154.14 486.3,151.73 487.4,140.64 487.6,139.38 487.8,138.97 488,139.49 488.2,140.87 488.9,148.79 M479.9,156.24 480.5,155.73 480.9,155.12 481.2,154.22 481.4,152.99 481.7,148.49 481.9,141.69 482.3,111.15 482.9,38.31 483.1,29.78 483.2,31.98 483.4,47.98 484.1,129.66 484.4,145.54 484.7,151.83 484.9,153.48 485.2,154.45 485.4,154.61 485.6,154.51 486,153.45 486.5,150.09 487.4,140.64 487.6,139.38 487.8,138.97 488,139.49 488.2,140.87 489.3,152.73 489.6,154.76 490,156.34 490.5,157.19 491.2,157.58 492.5,157.85 495.6,158.13 495.7,158.22 M595.8,159.33 600.5,159.14 601.3,158.91 601.8,158.43 602.2,157.59 602.6,156.06 603.8,148.07 604.1,146.77 604.3,146.5 604.5,146.77 604.8,148.07 606,156.07 606.4,157.59 606.8,158.44 607.3,158.91 608.1,159.15 612.8,159.36 M646.8,159.4 651.5,159.21 652.3,158.98 652.8,158.53 653.2,157.71 653.6,156.24 654.8,148.52 655.1,147.26 655.3,147 655.5,147.26 655.8,148.52 657,156.24 657.4,157.72 657.8,158.53 658.3,158.99 659.1,159.22 663.8,159.43" stroke="#8a2a9a" stroke-width="0.8" opacity="0.75"/>
<path d="M403.9,145.01 406.2,145.11 407.5,144.97 408,144.61 408.3,143.8 408.6,141.57 408.8,138.75 409.4,125.08 409.6,122.1 409.7,121.7 409.8,122.13 410,125.15 410.6,138.95 410.8,141.83 411.1,144.12 411.4,145.01 411.9,145.48 413.2,145.92 415.5,146.36 M447.7,155.9 450,156.22 451.1,156.07 451.7,155.75 451.9,155.43 452.1,154.79 452.4,152.56 452.6,149.75 453.2,136.17 453.4,133.21 453.5,132.8 453.6,133.21 453.8,136.18 454.4,149.8 454.6,152.62 454.9,154.86 455.2,155.7 455.7,156.11 457,156.4 459.3,156.57 M468.4,156.81 470.4,156.81 470.5,156.72 472,156.56 472.5,156.28 472.8,155.65 473.1,153.94 473.3,151.79 473.9,141.39 474.1,139.12 474.2,138.8 474.3,139.12 474.5,141.4 475.1,151.82 475.3,153.98 475.6,155.69 475.8,156.19 476,156.43 476.4,156.62 477,156.71 478.7,156.6 479.4,156.38 480,156.03 M477.3,156.73 478.5,156.64 479.5,156.34 480.2,155.87 480.8,155.05 481.2,153.83 481.4,152.46 481.7,147.43 482,133.99 482.2,117.02 483,17.3 483.2,17.3 483.3,24.3 484.1,126.39 484.3,139.76 484.6,149.59 484.8,152.27 485.1,153.89 485.3,154.27 485.5,154.33 485.7,154.12 485.9,153.6 486.2,152.14 486.5,149.79 487.4,140.12 487.6,138.82 487.8,138.4 488,138.95 488.2,140.37 488.9,148.51 M479.9,156.11 480.4,155.66 480.8,155.05 481.1,154.26 481.3,153.26 481.6,149.72 481.8,144.23 482.2,117.02 482.9,24.31 483,17.3 483.2,17.3 484.1,126.39 484.4,144.14 484.7,151.18 484.9,153.03 485.2,154.13 485.4,154.33 485.6,154.26 486,153.21 486.5,149.79 487.4,140.12 487.6,138.82 487.8,138.4 488,138.95 488.2,140.37 489.3,152.56 489.6,154.64 490,156.27 490.5,157.14 491.2,157.55 492.5,157.83 495.6,158.12 495.7,158.21 M595.8,159.33 598.8,159.26 600.5,159.13 601.3,158.88 601.8,158.39 602.2,157.5 602.6,155.91 603.8,147.54 604.1,146.18 604.3,145.9 604.5,146.18 604.8,147.54 606,155.91 606.4,157.51 606.8,158.39 607.3,158.89 608.1,159.14 609.8,159.28 612.8,159.36 M646.8,159.4 651.5,159.2 652.3,158.97 652.8,158.49 653.2,157.64 653.6,156.11 654.8,148.08 655.1,146.77 655.3,146.5 655.5,146.77 655.8,148.08 657,156.11 657.4,157.65 657.8,158.5 658.3,158.97 659.1,159.21 663.8,159.42" stroke="#4a4ae6" stroke-width="0.8" opacity="0.85"/>
<path d="M366.7,122.98 369.2,124.87 371.7,127.65 374.2,130.06 376.7,132.28 384.2,138.6 389.2,141.22 391.7,142.93 394.2,143.79 396.7,143.56 399.2,144.04 401.7,143.82 404.2,143.01 406.9,143.5 407.6,143.53 408,143.41 408.2,143.18 408.4,142.68 408.7,140.99 409.4,132.19 409.6,130.5 409.7,130.3 410,132.42 410.7,141.68 411,143.55 411.2,144.17 411.5,144.64 411.7,144.81 412.2,144.96 414.2,145.22 416.7,146.16 419.2,146.65 421.7,148.19 424.2,149.19 426.7,150.42 429.2,151.46 431.7,152.09 434.2,152.19 436.7,153.22 439.2,153.54 444.2,154.68 445.8,154.95 446.4,154.91 446.9,154.66 447.3,154.25 448,153.27 448.4,153.01 448.8,153.31 449.7,154.91 450.2,155.49 450.8,155.72 451.5,155.58 451.8,155.33 452,154.96 452.4,152.85 452.7,149.08 453.2,139.69 453.4,137.3 453.5,136.97 453.6,137.29 453.8,139.65 454.3,149 454.6,152.84 455,155.04 455.2,155.47 455.6,155.87 456.7,156.39 459.2,156.27 461.5,156.56 463.5,156.6 464.2,156.45 465.2,155.42 465.5,155.25 465.8,155.28 467,155.98 467.4,156.07 467.9,155.94 468.6,155.36 468.9,155.23 469.3,155.41 470,156.11 470.4,156.37 470.5,156.3 470.9,156.36 471.7,156.26 472.4,155.96 472.7,155.55 472.9,154.95 473.2,153.06 473.9,143.42 474.1,141.52 474.2,141.25 474.3,141.51 474.5,143.38 475.1,151.94 475.3,153.71 475.6,155.11 475.8,155.51 476.1,155.76 477.2,155.92 478.8,155.75 479.4,155.55 480,155.19 480.5,154.69 480.9,154.02 481.2,153.09 481.4,151.86 481.7,147.47 481.9,140.97 482.3,111.77 482.9,41.46 483.1,32.25 483.3,38.43 483.8,85.79 484.1,103.22 484.3,105.95 484.8,100.85 484.9,100.93 485,101.93 485.3,110.13 485.9,134.21 486.2,141.86 486.4,144.43 486.5,145.04 486.6,145.28 486.7,145.2 486.9,144.35 487.5,140.23 487.7,139.62 487.8,139.6 487.9,139.8 488.2,141.55 489.1,150.97 489.5,153.98 490,155.99 490.3,156.57 490.7,156.96 491.4,157.25 492.4,157.42 494.2,157.53 495.7,157.74 497.2,157.38 498.3,157.66 499.2,157.66 501.1,158.06 501.7,158 502.7,157.27 503.1,157.16 504.6,157.73 505.8,158.04 509.2,158.33 511.7,158.31 513.3,158.42 513.9,158.29 514.7,157.87 515.1,157.79 516.4,158.29 517.4,158.53 518.2,158.59 518.9,158.43 519.7,157.89 520.1,157.76 521.3,158.16 522.2,158.32 523.4,158.4 524.1,158.32 524.8,157.88 525.9,156.29 526.3,156.06 526.5,156.15 526.8,156.48 527.7,157.83 528.3,158.28 528.7,158.3 529,158.17 530,157.03 530.3,156.88 530.6,157.02 531.5,158.02 532,158.15 532.4,157.87 532.8,156.96 533.8,151.66 534.1,150.96 534.2,151.04 534.4,151.67 535.3,156.69 535.6,157.64 536,158.26 536.7,158.6 538.2,158.5 538.7,158.3 539.6,157.48 540,157.32 540.3,157.46 541.4,158.47 542.1,158.68 542.8,158.7 543.3,158.55 543.7,158.22 544.2,157.5 544.8,156.3 545.2,155.9 545.4,155.92 545.6,156.07 546.4,157.22 547,157.84 547.3,157.92 547.6,157.7 548,156.65 548.9,151.59 549.1,150.99 549.2,150.92 549.3,151 549.5,151.62 550.5,157.15 550.9,158.05 551.3,158.32 551.8,158.24 552.2,157.89 553.2,155.7 553.5,155.41 553.8,155.71 554.7,157.82 555,158.23 555.4,158.49 556.7,158.67 559.2,158.59 561.7,158.65 562.3,158.32 562.7,157.79 563.9,154.73 564.1,154.4 564.3,154.29 564.5,154.44 564.7,154.79 565.9,158 566.3,158.58 566.8,158.91 571.7,158.49 574.2,158.49 576.7,159.02 578.6,159.05 579.1,158.84 579.4,158.54 580.6,156.32 581,156 581.4,156.32 582.5,158.2 582.9,158.55 583.3,158.68 586.7,158.54 589.2,159.27 590.4,159.06 592,158.47 593.8,158.82 596.7,158.77 599.2,158.89 600.5,158.7 601.2,158.47 601.8,157.92 602.1,157.38 602.5,156.07 602.8,154.54 603.9,147.04 604.1,146.28 604.3,146 604.5,146.22 604.7,146.96 605.8,154.39 606.4,156.92 606.9,157.9 607.3,158.33 608,158.71 609,159 609.6,158.91 610.6,158.33 611,158.21 612.7,158.74 614.2,158.62 616.7,158.91 619.2,158.99 621.7,158.64 624.2,158.69 625.7,158.55 626.4,158.34 627,157.91 627.4,157.43 628.3,155.9 628.7,155.59 629,155.73 629.3,156.14 630.2,157.95 630.6,158.56 631.1,159.02 631.7,159.26 637.1,159.2 638.4,158.93 639.6,158.28 640,158.18 640.4,158.25 641.4,158.68 642,158.77 644.2,158.72 646.7,158.9 649.2,158.77 651.7,158.77 652.3,158.52 652.7,158.17 653,157.7 653.3,156.95 653.8,154.85 654.8,148.77 655.1,147.69 655.3,147.5 655.5,147.79 655.8,149.03 656.7,154.91 657.1,156.76 657.6,158.08 657.9,158.47 658.2,158.68 658.9,158.82 661.7,158.73 666,158.94 666.7,158.78 667.7,158.06 668.1,157.98 669.8,158.96 671.7,159.35 674.2,159 674.8,158.73 675.7,158.09 676.1,158 676.5,158.14 677.3,158.72 677.9,158.98 679.2,159.2 680.5,159.21" stroke="#d62a3e" stroke-width="0.8" opacity="0.85"/>
<path d="M366.7,125.7 372,130.2 379,135.6 385,139.8 391.3,143 395,144.5 401.9,144.9 409.7,145.6 416,146.5 428.4,151.2 440,154.5 450,156.4 470,156.9 490,158.1 520,159.1 600,159.4 680.5,159.5" stroke="#5cb85c" stroke-width="0.9" opacity="0.9"/>
<line x1="409.7" y1="121" x2="409.7" y2="145.6" stroke="#f0bb55" stroke-width="0.8"/>
<line x1="453.5" y1="132.5" x2="453.5" y2="156.49" stroke="#f0bb55" stroke-width="0.8"/>
<line x1="474.2" y1="139" x2="474.2" y2="157.15" stroke="#f0bb55" stroke-width="0.8"/>
<line x1="486.7" y1="136.2" x2="486.7" y2="157.9" stroke="#f0bb55" stroke-width="0.8"/>
<line x1="604.3" y1="144" x2="604.3" y2="159.41" stroke="#f0bb55" stroke-width="0.8"/>
<line x1="655.3" y1="144" x2="655.3" y2="159.47" stroke="#f0bb55" stroke-width="0.8"/>
</g>
<path d="M366.7,164.5 V19.3 H680.5 V164.5 H366.7" fill="none" stroke="#2a2a2a" stroke-width="1.2"/>
<line x1="367.11" y1="164.5" x2="367.11" y2="166.5" stroke="#333" stroke-width="0.8"/>
<line x1="372.26" y1="164.5" x2="372.26" y2="166.5" stroke="#333" stroke-width="0.8"/>
<line x1="377.41" y1="164.5" x2="377.41" y2="166.5" stroke="#333" stroke-width="0.8"/>
<line x1="382.56" y1="164.5" x2="382.56" y2="166.5" stroke="#333" stroke-width="0.8"/>
<line x1="387.7" y1="164.5" x2="387.7" y2="166.5" stroke="#333" stroke-width="0.8"/>
<line x1="392.85" y1="164.5" x2="392.85" y2="166.5" stroke="#333" stroke-width="0.8"/>
<line x1="398" y1="164.5" x2="398" y2="168.1" stroke="#333" stroke-width="0.8"/>
<line x1="403.15" y1="164.5" x2="403.15" y2="166.5" stroke="#333" stroke-width="0.8"/>
<line x1="408.3" y1="164.5" x2="408.3" y2="166.5" stroke="#333" stroke-width="0.8"/>
<line x1="413.44" y1="164.5" x2="413.44" y2="166.5" stroke="#333" stroke-width="0.8"/>
<line x1="418.59" y1="164.5" x2="418.59" y2="166.5" stroke="#333" stroke-width="0.8"/>
<line x1="423.74" y1="164.5" x2="423.74" y2="166.5" stroke="#333" stroke-width="0.8"/>
<line x1="428.89" y1="164.5" x2="428.89" y2="166.5" stroke="#333" stroke-width="0.8"/>
<line x1="434.04" y1="164.5" x2="434.04" y2="166.5" stroke="#333" stroke-width="0.8"/>
<line x1="439.18" y1="164.5" x2="439.18" y2="166.5" stroke="#333" stroke-width="0.8"/>
<line x1="444.33" y1="164.5" x2="444.33" y2="166.5" stroke="#333" stroke-width="0.8"/>
<line x1="449.48" y1="164.5" x2="449.48" y2="168.1" stroke="#333" stroke-width="0.8"/>
<line x1="454.63" y1="164.5" x2="454.63" y2="166.5" stroke="#333" stroke-width="0.8"/>
<line x1="459.78" y1="164.5" x2="459.78" y2="166.5" stroke="#333" stroke-width="0.8"/>
<line x1="464.92" y1="164.5" x2="464.92" y2="166.5" stroke="#333" stroke-width="0.8"/>
<line x1="470.07" y1="164.5" x2="470.07" y2="166.5" stroke="#333" stroke-width="0.8"/>
<line x1="475.22" y1="164.5" x2="475.22" y2="166.5" stroke="#333" stroke-width="0.8"/>
<line x1="480.37" y1="164.5" x2="480.37" y2="166.5" stroke="#333" stroke-width="0.8"/>
<line x1="485.52" y1="164.5" x2="485.52" y2="166.5" stroke="#333" stroke-width="0.8"/>
<line x1="490.66" y1="164.5" x2="490.66" y2="166.5" stroke="#333" stroke-width="0.8"/>
<line x1="495.81" y1="164.5" x2="495.81" y2="166.5" stroke="#333" stroke-width="0.8"/>
<line x1="500.96" y1="164.5" x2="500.96" y2="168.1" stroke="#333" stroke-width="0.8"/>
<line x1="506.11" y1="164.5" x2="506.11" y2="166.5" stroke="#333" stroke-width="0.8"/>
<line x1="511.26" y1="164.5" x2="511.26" y2="166.5" stroke="#333" stroke-width="0.8"/>
<line x1="516.4" y1="164.5" x2="516.4" y2="166.5" stroke="#333" stroke-width="0.8"/>
<line x1="521.55" y1="164.5" x2="521.55" y2="166.5" stroke="#333" stroke-width="0.8"/>
<line x1="526.7" y1="164.5" x2="526.7" y2="166.5" stroke="#333" stroke-width="0.8"/>
<line x1="531.85" y1="164.5" x2="531.85" y2="166.5" stroke="#333" stroke-width="0.8"/>
<line x1="537" y1="164.5" x2="537" y2="166.5" stroke="#333" stroke-width="0.8"/>
<line x1="542.14" y1="164.5" x2="542.14" y2="166.5" stroke="#333" stroke-width="0.8"/>
<line x1="547.29" y1="164.5" x2="547.29" y2="166.5" stroke="#333" stroke-width="0.8"/>
<line x1="552.44" y1="164.5" x2="552.44" y2="168.1" stroke="#333" stroke-width="0.8"/>
<line x1="557.59" y1="164.5" x2="557.59" y2="166.5" stroke="#333" stroke-width="0.8"/>
<line x1="562.74" y1="164.5" x2="562.74" y2="166.5" stroke="#333" stroke-width="0.8"/>
<line x1="567.88" y1="164.5" x2="567.88" y2="166.5" stroke="#333" stroke-width="0.8"/>
<line x1="573.03" y1="164.5" x2="573.03" y2="166.5" stroke="#333" stroke-width="0.8"/>
<line x1="578.18" y1="164.5" x2="578.18" y2="166.5" stroke="#333" stroke-width="0.8"/>
<line x1="583.33" y1="164.5" x2="583.33" y2="166.5" stroke="#333" stroke-width="0.8"/>
<line x1="588.48" y1="164.5" x2="588.48" y2="166.5" stroke="#333" stroke-width="0.8"/>
<line x1="593.62" y1="164.5" x2="593.62" y2="166.5" stroke="#333" stroke-width="0.8"/>
<line x1="598.77" y1="164.5" x2="598.77" y2="166.5" stroke="#333" stroke-width="0.8"/>
<line x1="603.92" y1="164.5" x2="603.92" y2="168.1" stroke="#333" stroke-width="0.8"/>
<line x1="609.07" y1="164.5" x2="609.07" y2="166.5" stroke="#333" stroke-width="0.8"/>
<line x1="614.22" y1="164.5" x2="614.22" y2="166.5" stroke="#333" stroke-width="0.8"/>
<line x1="619.36" y1="164.5" x2="619.36" y2="166.5" stroke="#333" stroke-width="0.8"/>
<line x1="624.51" y1="164.5" x2="624.51" y2="166.5" stroke="#333" stroke-width="0.8"/>
<line x1="629.66" y1="164.5" x2="629.66" y2="166.5" stroke="#333" stroke-width="0.8"/>
<line x1="634.81" y1="164.5" x2="634.81" y2="166.5" stroke="#333" stroke-width="0.8"/>
<line x1="639.96" y1="164.5" x2="639.96" y2="166.5" stroke="#333" stroke-width="0.8"/>
<line x1="645.1" y1="164.5" x2="645.1" y2="166.5" stroke="#333" stroke-width="0.8"/>
<line x1="650.25" y1="164.5" x2="650.25" y2="166.5" stroke="#333" stroke-width="0.8"/>
<line x1="655.4" y1="164.5" x2="655.4" y2="168.1" stroke="#333" stroke-width="0.8"/>
<line x1="660.55" y1="164.5" x2="660.55" y2="166.5" stroke="#333" stroke-width="0.8"/>
<line x1="665.7" y1="164.5" x2="665.7" y2="166.5" stroke="#333" stroke-width="0.8"/>
<line x1="670.84" y1="164.5" x2="670.84" y2="166.5" stroke="#333" stroke-width="0.8"/>
<line x1="675.99" y1="164.5" x2="675.99" y2="166.5" stroke="#333" stroke-width="0.8"/>
<text transform="translate(395.1,174.86) scale(1,1)" font-size="6.6" fill="#4a4a4a" color="#4a4a4a" textLength="5" lengthAdjust="spacingAndGlyphs" style="stroke-width:0.12px">10</text>
<text transform="translate(446.58,174.86) scale(1,1)" font-size="6.6" fill="#4a4a4a" color="#4a4a4a" textLength="5" lengthAdjust="spacingAndGlyphs" style="stroke-width:0.12px">20</text>
<text transform="translate(498.06,174.86) scale(1,1)" font-size="6.6" fill="#4a4a4a" color="#4a4a4a" textLength="5" lengthAdjust="spacingAndGlyphs" style="stroke-width:0.12px">30</text>
<text transform="translate(549.54,174.86) scale(1,1)" font-size="6.6" fill="#4a4a4a" color="#4a4a4a" textLength="5" lengthAdjust="spacingAndGlyphs" style="stroke-width:0.12px">40</text>
<text transform="translate(601.02,174.86) scale(1,1)" font-size="6.6" fill="#4a4a4a" color="#4a4a4a" textLength="5" lengthAdjust="spacingAndGlyphs" style="stroke-width:0.12px">50</text>
<text transform="translate(652.5,174.86) scale(1,1)" font-size="6.6" fill="#4a4a4a" color="#4a4a4a" textLength="5" lengthAdjust="spacingAndGlyphs" style="stroke-width:0.12px">60</text>
<line x1="363.1" y1="164.3" x2="366.7" y2="164.3" stroke="#333" stroke-width="0.8"/>
<text transform="translate(358.45,166.33) scale(1,1)" font-size="6.8" fill="#4a4a4a" color="#4a4a4a" textLength="2.75" lengthAdjust="spacingAndGlyphs" style="stroke-width:0.12px">0</text>
<line x1="363.1" y1="115.2" x2="366.7" y2="115.2" stroke="#333" stroke-width="0.8"/>
<text transform="translate(352.95,117.23) scale(1,1)" font-size="6.8" fill="#4a4a4a" color="#4a4a4a" textLength="8.25" lengthAdjust="spacingAndGlyphs" style="stroke-width:0.12px">100</text>
<line x1="363.1" y1="65.8" x2="366.7" y2="65.8" stroke="#333" stroke-width="0.8"/>
<text transform="translate(352.95,67.83) scale(1,1)" font-size="6.8" fill="#4a4a4a" color="#4a4a4a" textLength="8.25" lengthAdjust="spacingAndGlyphs" style="stroke-width:0.12px">200</text>
<text transform="translate(352.35,108.8) rotate(-90)" font-size="8.8" fill="#222" color="#222" textLength="28.5" lengthAdjust="spacingAndGlyphs" style="stroke-width:0.16px">Counts</text>
<text transform="translate(530.8,177.36) scale(1,0.9)" font-size="9.5" fill="#222" color="#222" textLength="12.3" lengthAdjust="spacingAndGlyphs">2<tspan font-size="7.41" dy="0">θ</tspan>°</text>
<text transform="translate(347,15.97) scale(1,1)" font-size="11.3" fill="#ea1f27" color="#ea1f27" textLength="13.6" lengthAdjust="spacingAndGlyphs" style="stroke-width:0.25px">(b)</text>
<text transform="translate(413.45,120.1) rotate(-90)" font-size="8.8" fill="#1a1a1a" color="#1a1a1a" textLength="26" lengthAdjust="spacingAndGlyphs" style="stroke-width:0.16px">Ur  Ka</text>
<text transform="translate(456.95,132.4) rotate(-90)" font-size="8.8" fill="#1a1a1a" color="#1a1a1a" textLength="42.9" lengthAdjust="spacingAndGlyphs" style="stroke-width:0.16px">Qz  Ur  Ka</text>
<text transform="translate(477.75,138.2) rotate(-90)" font-size="8.8" fill="#1a1a1a" color="#1a1a1a" textLength="44" lengthAdjust="spacingAndGlyphs" style="stroke-width:0.16px">Zr  Ur  Ka</text>
<text transform="translate(481.85,61.2) rotate(-90)" font-size="8.8" fill="#1a1a1a" color="#1a1a1a" textLength="38.3" lengthAdjust="spacingAndGlyphs" style="stroke-width:0.16px">Qz  Zr  Ur</text>
<text transform="translate(492.95,138.2) rotate(-90)" font-size="8.8" fill="#1a1a1a" color="#1a1a1a" textLength="26.7" lengthAdjust="spacingAndGlyphs" style="stroke-width:0.16px">Ur  Ka</text>
<text transform="translate(607.45,144.9) rotate(-90)" font-size="8.8" fill="#1a1a1a" color="#1a1a1a" textLength="44.1" lengthAdjust="spacingAndGlyphs" style="stroke-width:0.16px">Qz  Zr  Be</text>
<text transform="translate(658.45,146.3) rotate(-90)" font-size="8.8" fill="#1a1a1a" color="#1a1a1a" textLength="27.2" lengthAdjust="spacingAndGlyphs" style="stroke-width:0.16px">Qz  Be</text>
<line x1="678" y1="21.5" x2="678" y2="69.3" stroke="#777" stroke-width="0.9"/>
<text transform="translate(615.2,29.96) scale(1,0.95)" font-size="9" fill="#1a1a1a" color="#1a1a1a" textLength="49.6" lengthAdjust="spacingAndGlyphs" style="stroke-width:0.14px">Qz — Quartz</text>
<text transform="translate(615.2,39.74) scale(1,0.95)" font-size="9" fill="#1a1a1a" color="#1a1a1a" textLength="44.9" lengthAdjust="spacingAndGlyphs" style="stroke-width:0.14px">Zr — Zircon</text>
<text transform="translate(614.1,49.51) scale(1,0.95)" font-size="9" fill="#1a1a1a" color="#1a1a1a" textLength="56" lengthAdjust="spacingAndGlyphs" style="stroke-width:0.14px">Ka <tspan fill="#a8a8a8" color="#a8a8a8">—</tspan> Kaolinite</text>
<text transform="translate(614.1,59.29) scale(1,0.95)" font-size="9" fill="#1a1a1a" color="#1a1a1a" textLength="62.2" lengthAdjust="spacingAndGlyphs" style="stroke-width:0.14px">Ur --- Uranopilite</text>
<text transform="translate(614.7,69.06) scale(1,0.95)" font-size="9" fill="#1a1a1a" color="#1a1a1a" textLength="52" lengthAdjust="spacingAndGlyphs" style="stroke-width:0.14px">Be — Betafite</text>
<clipPath id="cc"><rect x="22.4" y="196.2" width="318.7" height="143.7"/></clipPath>
<line x1="66.5" y1="186.9" x2="66.5" y2="196.2" stroke="#f1c46a" stroke-width="0.9"/>
<path d="M65,183.3 L66.5,184.5 L68,183.3 L66.5,186.5 Z M66.5,186.1 V187.1" fill="#4a4a4a" stroke="#4a4a4a" stroke-width="0.4"/>
<line x1="110.8" y1="186.9" x2="110.8" y2="196.2" stroke="#f1c46a" stroke-width="0.9"/>
<path d="M109.3,183.3 L110.8,184.5 L112.3,183.3 L110.8,186.5 Z M110.8,186.1 V187.1" fill="#4a4a4a" stroke="#4a4a4a" stroke-width="0.4"/>
<line x1="131.3" y1="186.9" x2="131.3" y2="196.2" stroke="#eca43a" stroke-width="1.1"/>
<path d="M129.8,183.3 L131.3,184.5 L132.8,183.3 L131.3,186.5 Z M131.3,186.1 V187.1" fill="#111" stroke="#111" stroke-width="0.4"/>
<line x1="141.2" y1="186.9" x2="141.2" y2="196.2" stroke="#f1c46a" stroke-width="0.9"/>
<path d="M139.7,183.3 L141.2,184.5 L142.7,183.3 L141.2,186.5 Z M141.2,186.1 V187.1" fill="#4a4a4a" stroke="#4a4a4a" stroke-width="0.4"/>
<line x1="145.3" y1="186.9" x2="145.3" y2="196.2" stroke="#f1c46a" stroke-width="0.9"/>
<path d="M143.8,183.3 L145.3,184.5 L146.8,183.3 L145.3,186.5 Z M145.3,186.1 V187.1" fill="#4a4a4a" stroke="#4a4a4a" stroke-width="0.4"/>
<line x1="162.7" y1="186.9" x2="162.7" y2="196.2" stroke="#f1c46a" stroke-width="0.9"/>
<path d="M161.2,183.3 L162.7,184.5 L164.2,183.3 L162.7,186.5 Z M162.7,186.1 V187.1" fill="#4a4a4a" stroke="#4a4a4a" stroke-width="0.4"/>
<line x1="193.3" y1="186.9" x2="193.3" y2="196.2" stroke="#f1c46a" stroke-width="0.9"/>
<path d="M191.8,183.3 L193.3,184.5 L194.8,183.3 L193.3,186.5 Z M193.3,186.1 V187.1" fill="#4a4a4a" stroke="#4a4a4a" stroke-width="0.4"/>
<line x1="207.7" y1="186.9" x2="207.7" y2="196.2" stroke="#f1c46a" stroke-width="0.9"/>
<path d="M206.2,183.3 L207.7,184.5 L209.2,183.3 L207.7,186.5 Z M207.7,186.1 V187.1" fill="#4a4a4a" stroke="#4a4a4a" stroke-width="0.4"/>
<line x1="263.9" y1="186.9" x2="263.9" y2="196.2" stroke="#f1c46a" stroke-width="0.9"/>
<path d="M262.4,183.3 L263.9,184.5 L265.4,183.3 L263.9,186.5 Z M263.9,186.1 V187.1" fill="#4a4a4a" stroke="#4a4a4a" stroke-width="0.4"/>
<line x1="288.4" y1="186.9" x2="288.4" y2="196.2" stroke="#f1c46a" stroke-width="0.9"/>
<path d="M286.9,183.3 L288.4,184.5 L289.9,183.3 L288.4,186.5 Z M288.4,186.1 V187.1" fill="#4a4a4a" stroke="#4a4a4a" stroke-width="0.4"/>
<line x1="315.7" y1="186.9" x2="315.7" y2="196.2" stroke="#f1c46a" stroke-width="0.9"/>
<path d="M314.2,183.3 L315.7,184.5 L317.2,183.3 L315.7,186.5 Z M315.7,186.1 V187.1" fill="#4a4a4a" stroke="#4a4a4a" stroke-width="0.4"/>
<g clip-path="url(#cc)" fill="none" stroke-linejoin="round">
<line x1="141.7" y1="196.2" x2="141.7" y2="334.57" stroke="#f0bb55" stroke-width="0.8"/>
<path d="M49.9,323.74 59,323.85 60.2,323.74 61.1,323.47 62,322.9 62.8,322.03 63.7,320.6 65.6,316.97 66.2,316.24 66.5,316.05 66.8,316 67.3,316.23 67.8,316.82 70.5,322.12 71.3,323.25 72.2,324.08 73.8,324.97 75.2,325.54 83.7,328.24 M105,333.13 107.3,333.21 108.6,333.15 109.1,332.98 109.4,332.57 109.7,331.46 109.9,330.04 110.5,323.19 110.7,321.7 110.8,321.5 110.9,321.71 111.1,323.23 111.7,330.14 111.9,331.58 112.2,332.73 112.5,333.17 113.1,333.42 116.6,333.77 M123.1,334.04 127.6,334.03 128.3,333.89 128.8,333.54 129.2,332.85 129.5,331.89 130.6,326.55 130.8,325.94 131,325.73 131.2,325.95 131.4,326.56 132.6,332.28 132.9,333.06 133.3,333.65 133.7,333.9 134.3,334.03 136.5,334.02 138,333.71 138.9,333.14 M135.7,334.07 137,333.96 137.9,333.75 138.6,333.4 139.1,332.89 139.4,332.3 139.6,331.5 139.9,328.34 140.1,323.12 140.3,313.35 141,247.49 141.2,239.92 141.4,247.5 142.1,313.36 142.3,323.14 142.5,328.36 142.7,330.84 142.9,331.99 143.1,332.56 143.4,333.02 143.9,333.41 144.2,333.45 144.5,333.22 144.8,332.32 145,331.11 145.6,325.11 145.8,323.81 145.9,323.64 146,323.84 146.2,325.21 146.7,330.56 M140.1,323.12 140.4,306.27 141,247.49 141.2,239.92 141.4,247.5 142.1,313.36 142.4,326.2 142.7,330.84 143,332.32 143.4,333.02 143.8,333.36 144.1,333.46 144.4,333.34 144.6,333.01 145,331.11 145.6,325.11 145.8,323.81 145.9,323.64 146,323.84 146.2,325.21 146.8,331.42 147,332.71 147.3,333.74 147.6,334.15 148.2,334.39 149.8,334.59 151.7,334.66 M149.5,334.57 153.3,334.73 156.1,334.68 157.6,334.54 158.6,334.18 159.2,333.72 159.8,332.99 160.4,331.96 161.9,328.83 162.4,328.17 162.8,328 163.2,328.18 163.7,328.84 165.2,331.99 165.8,333.03 166.4,333.77 167.1,334.29 168,334.61 169.2,334.75 176.1,334.92 M185.1,334.97 189.5,334.91 190.2,334.82 190.7,334.61 191.1,334.18 191.4,333.6 192.6,329.4 192.8,328.95 193,328.8 193.2,328.96 193.4,329.41 194.6,333.62 194.9,334.2 195.3,334.63 195.8,334.85 196.5,334.95 200.9,335.06 M200.5,335.06 204.7,335 205.4,334.91 205.8,334.72 206.1,334.42 206.4,333.88 207.4,330.61 207.6,330.16 207.8,329.99 208,330.16 208.2,330.62 209.2,333.89 209.5,334.43 209.9,334.81 210.3,334.96 211,335.04 215.1,335.12 M258.3,335.23 260.6,335.18 261.9,335.04 262.4,334.83 262.7,334.38 263,333.18 263.2,331.66 263.8,324.32 264,322.72 264.1,322.5 264.2,322.72 264.4,324.32 265,331.66 265.2,333.18 265.5,334.39 265.8,334.84 266.3,335.06 267.6,335.2 269.9,335.26 M282.9,335.33 286.5,335.3 287.3,335.17 287.8,334.63 288.4,333.16 288.7,332.8 289,333.16 289.6,334.63 290.1,335.18 290.9,335.31 294.5,335.36 M309.8,335.37 312.1,335.3 313.4,335.14 313.9,334.88 314.2,334.33 314.5,332.85 314.7,331 315.3,322.03 315.5,320.07 315.6,319.8 315.7,320.07 315.9,322.03 316.5,331 316.7,332.86 317,334.33 317.3,334.89 317.8,335.15 319.1,335.32 321.4,335.4" stroke="#8a2a9a" stroke-width="0.8" opacity="0.75"/>
<path d="M46.3,323.62 56.3,323.73 58.5,323.57 59.8,323.21 61,322.46 62.1,321.25 63,319.88 64.9,316.5 65.6,315.51 66.3,314.91 66.9,314.81 67.6,315.22 68.3,316.1 70.7,320.6 71.8,322.34 72.6,323.27 74.1,324.61 75.4,325.37 77.3,326.14 87.3,329.3 M105,333.11 108.5,333.14 109.1,332.95 109.4,332.52 109.7,331.34 109.9,329.84 110.5,322.59 110.7,321.01 110.8,320.8 110.9,321.02 111.1,322.63 111.7,329.94 111.9,331.46 112.2,332.68 112.5,333.14 113.1,333.41 116.6,333.76 M123.1,334.04 127.6,334.01 128.3,333.86 128.8,333.47 129.2,332.72 129.5,331.65 130.6,325.79 130.8,325.12 131,324.89 131.2,325.13 131.4,325.8 132.6,332.03 132.9,332.89 133.3,333.53 133.8,333.84 134.4,333.94 135.6,333.95 136.7,333.83 138,333.39 138.5,333.03 138.9,332.55 M135.7,333.94 137,333.77 137.9,333.45 138.6,332.93 139.1,332.19 139.4,331.33 139.6,330.18 139.9,325.6 140.1,318.07 140.3,303.95 141,208.84 141.2,197.91 141.4,208.84 142.1,303.97 142.3,318.09 142.5,325.62 142.7,329.21 143,331.34 143.3,332.19 143.6,332.66 144.1,333.05 144.4,332.99 144.7,332.36 144.9,331.38 145.6,324.33 145.8,322.95 145.9,322.78 146,323 146.2,324.46 146.7,330.18 M140.1,318.07 140.4,293.73 141,208.84 141.2,197.91 141.4,208.84 142.1,303.97 142.4,322.51 142.7,329.21 143,331.34 143.4,332.37 143.7,332.77 144.1,333.05 144.4,332.99 144.6,332.66 145,330.67 145.6,324.33 145.8,322.95 145.9,322.78 146,323 146.2,324.46 146.8,331.1 147,332.48 147.3,333.59 147.6,334.03 148.2,334.3 149.8,334.52 151.7,334.6 M147.1,332.96 147.3,333.59 147.6,334.03 148,334.24 148.9,334.42 153.4,334.68 155.8,334.59 157.2,334.32 158.1,333.86 159,333.02 159.9,331.69 161.7,328.39 162.3,327.69 162.8,327.5 163.3,327.7 163.9,328.4 165.7,331.72 166.5,332.94 167.2,333.69 168,334.22 169,334.56 170.5,334.74 178.5,334.92 M185.1,334.96 189.5,334.89 190.2,334.8 190.7,334.56 191.1,334.1 191.4,333.47 192.6,328.94 192.8,328.45 193,328.28 193.2,328.46 193.4,328.95 194.6,333.49 194.9,334.12 195.3,334.6 195.8,334.84 196.5,334.94 200.9,335.05 M200.5,335.05 204.7,334.99 205.4,334.88 205.8,334.67 206.1,334.32 206.4,333.71 207.4,330 207.6,329.48 207.8,329.29 208,329.48 208.2,330 209.2,333.72 209.5,334.33 209.9,334.76 210.3,334.93 211,335.03 215.1,335.12 M258.3,335.23 260.6,335.17 261.9,335.04 262.4,334.82 262.7,334.35 263,333.11 263.2,331.54 263.8,323.98 264,322.33 264.1,322.1 264.2,322.33 264.4,323.98 265,331.55 265.2,333.12 265.5,334.36 265.8,334.83 266.3,335.05 267.6,335.19 269.9,335.26 M282.9,335.33 286.5,335.29 287.3,335.13 287.6,334.85 287.8,334.48 288.4,332.73 288.7,332.3 289,332.74 289.6,334.49 289.8,334.85 290.1,335.14 290.9,335.3 294.5,335.36 M309.8,335.37 312.1,335.3 313.4,335.13 313.9,334.86 314.2,334.29 314.5,332.77 314.7,330.85 315.3,321.6 315.5,319.58 315.6,319.3 315.7,319.58 315.9,321.6 316.5,330.86 316.7,332.78 317,334.3 317.3,334.87 317.8,335.14 319.1,335.32 321.4,335.4" stroke="#4a4ae6" stroke-width="0.8" opacity="0.85"/>
<path d="M22.4,301.19 24.9,300 27.4,300.25 29.9,302.49 32.4,304.96 34.9,309.24 37.4,312.79 39.9,317.19 42.4,320.71 44.9,323.04 47.4,323.35 49.9,323.42 52.4,322.84 54.9,323.08 57.4,322.57 59.9,322.6 61.3,322.2 63,321.57 63.8,320.96 64.6,319.79 66.1,316.79 66.5,316.32 66.9,316.21 67.2,316.37 67.5,316.75 69.2,320.36 70.3,321.92 71.1,322.6 72.4,323.27 74.9,324.95 77.4,326.33 79.9,327.21 82.4,328.53 84.9,329.09 87.4,329.81 89.9,330.12 92.4,331.18 97.4,331.98 99.9,332.87 102.4,333.44 104.9,333.12 107.4,333.17 108.7,333.33 109.1,333.28 109.5,332.86 109.8,331.84 110.5,326.26 110.7,325.16 110.8,325 110.9,325.13 111.1,326.19 111.6,330.41 111.9,332.09 112.2,332.88 112.7,333.25 114.9,333.46 117.4,334.11 118,333.98 118.5,333.75 119.9,332.48 120.3,332.57 121.5,333.58 122.3,333.77 123,333.74 123.5,333.61 124.9,332.74 125.3,332.89 126.6,333.97 127.4,334.25 127.7,334.17 128.6,333.76 129.2,333 129.7,331.65 130.6,328.49 130.8,328.07 131,327.93 131.2,328.09 131.4,328.52 132.5,332.26 132.9,333.05 133.3,333.46 133.9,333.69 134.9,333.76 136.6,333.61 138.4,333.25 138.9,332.98 139.2,332.67 139.6,331.68 139.9,329.06 140.1,324.69 140.4,310.56 141,261.3 141.2,254.95 141.4,261.3 142,310.53 142.3,324.65 142.5,329.03 142.8,331.76 143.2,332.89 143.6,333.39 144.1,333.74 144.4,333.78 144.6,333.66 144.9,333.03 145.6,329.07 145.8,328.29 145.9,328.19 146.2,329.09 146.9,333.12 147.2,333.89 147.6,334.26 148,334.36 148.5,334.29 149.6,333.5 150,333.36 150.4,333.5 151.3,334.25 151.8,334.43 152.6,334.33 154,333.74 154.4,333.82 155.4,334.32 156,334.47 158.6,334.62 159.5,334.54 160.1,334.21 160.7,333.35 161.2,332.16 162.2,329.21 162.5,328.62 162.8,328.39 163,328.47 163.3,328.91 164.6,332.44 165.1,333.4 165.5,333.88 165.9,334.16 166.4,334.33 169.9,334.8 170.6,334.67 171.7,334.22 172.1,334.16 173.7,334.63 174.9,334.71 177.4,335.07 178.5,334.93 180.2,334.46 181.4,334.56 182.4,334.48 184.9,334.94 187.4,334.85 189.5,334.99 190.2,334.94 190.8,334.65 191.3,333.97 191.8,332.61 192.6,329.67 192.8,329.19 193,328.99 193.2,329.1 193.4,329.49 194.4,332.78 195,333.9 195.4,334.35 195.8,334.6 197.4,335.15 199.9,334.66 201.6,334.87 202.3,334.83 202.8,334.53 203.7,333.64 204,333.53 204.4,333.68 205.3,334.46 205.6,334.56 205.9,334.5 206.2,334.23 206.5,333.7 207.4,331.08 207.6,330.65 207.8,330.46 208,330.57 208.2,330.93 209,333.19 209.4,333.91 209.7,334.18 210.3,334.49 211.4,334.76 211.8,334.75 212.2,334.6 213.1,333.74 213.5,333.57 213.9,333.79 214.8,334.82 215.2,335.01 215.9,335.03 217.4,334.76 219.9,335.02 220.8,335.01 221.6,334.77 222.7,333.75 223.1,333.58 223.4,333.69 224.4,334.41 225.6,334.67 228.3,334.89 230,334.49 230.4,334.59 231.4,335.09 232,335.23 237.4,335.3 239.7,334.79 240.4,334.47 241.4,333.74 241.9,333.6 242.4,333.78 243.6,334.65 244.9,334.98 247.4,334.59 248.5,334.78 250.3,334.79 251.5,334.92 254.9,334.8 257.4,335.34 261.4,335.25 262,335.17 262.4,335 262.7,334.54 262.9,333.88 263.3,331.04 263.9,324.31 264.1,323.5 264.2,323.68 264.4,325.1 264.9,330.74 265.2,333.02 265.6,334.29 265.8,334.5 266.1,334.63 267.4,334.74 269.9,335.29 272.4,335 274.5,334.99 276.2,334.79 282.4,335.13 284.9,334.74 287.2,335.06 287.4,335.02 287.7,334.74 288.4,333.32 288.7,333 289,333.31 289.6,334.55 290,334.98 290.6,335.19 292.4,335.44 294.9,334.92 297.4,334.75 298.5,334.87 300.2,334.8 301.4,335.07 302.4,335.12 303.5,334.95 304.9,334.48 307,335.04 309.9,335.13 312.1,334.91 313.4,334.68 313.9,334.41 314.2,333.9 314.6,331.82 315.3,322.94 315.5,321.22 315.6,321 315.7,321.25 315.9,323.03 316.6,332.05 316.9,333.83 317.1,334.39 317.4,334.78 317.8,334.91 318.6,334.97 322.4,334.86 324.9,335.45 327.4,335.44 328.4,335.1 329.6,333.97 330,333.8 330.4,333.98 331.6,335.12 332.4,335.44 334.9,334.87 337.4,334.9 339.9,335.39 341.1,335.39" stroke="#d62a3e" stroke-width="0.8" opacity="0.85"/>
<path d="M22.4,302 30.5,309.8 36.2,316.9 43.2,323.6 57.4,324 73,325.1 92.8,331 102,333 120,334 150,334.8 200,335.1 341.1,335.5" stroke="#5cb85c" stroke-width="0.9" opacity="0.9"/>
<line x1="66.8" y1="312" x2="66.8" y2="324.66" stroke="#f0bb55" stroke-width="0.8"/>
<line x1="110.8" y1="310.6" x2="110.8" y2="333.49" stroke="#f0bb55" stroke-width="0.8"/>
<line x1="131" y1="324" x2="131" y2="334.29" stroke="#f0bb55" stroke-width="0.8"/>
<line x1="145.9" y1="316.5" x2="145.9" y2="334.69" stroke="#f0bb55" stroke-width="0.8"/>
<line x1="162.8" y1="326" x2="162.8" y2="334.88" stroke="#f0bb55" stroke-width="0.8"/>
<line x1="193" y1="325.5" x2="193" y2="335.06" stroke="#f0bb55" stroke-width="0.8"/>
<line x1="207.8" y1="327.5" x2="207.8" y2="335.12" stroke="#f0bb55" stroke-width="0.8"/>
<line x1="264.1" y1="319.2" x2="264.1" y2="335.28" stroke="#f0bb55" stroke-width="0.8"/>
<line x1="288.7" y1="330" x2="288.7" y2="335.35" stroke="#f0bb55" stroke-width="0.8"/>
<line x1="315.6" y1="313.6" x2="315.6" y2="335.43" stroke="#f0bb55" stroke-width="0.8"/>
</g>
<path d="M22.4,339.9 V196.2 H341.1 V339.9 H22.4" fill="none" stroke="#2a2a2a" stroke-width="1.2"/>
<line x1="22.48" y1="339.9" x2="22.48" y2="341.9" stroke="#333" stroke-width="0.8"/>
<line x1="27.72" y1="339.9" x2="27.72" y2="341.9" stroke="#333" stroke-width="0.8"/>
<line x1="32.96" y1="339.9" x2="32.96" y2="341.9" stroke="#333" stroke-width="0.8"/>
<line x1="38.19" y1="339.9" x2="38.19" y2="341.9" stroke="#333" stroke-width="0.8"/>
<line x1="43.43" y1="339.9" x2="43.43" y2="341.9" stroke="#333" stroke-width="0.8"/>
<line x1="48.66" y1="339.9" x2="48.66" y2="341.9" stroke="#333" stroke-width="0.8"/>
<line x1="53.9" y1="339.9" x2="53.9" y2="343.5" stroke="#333" stroke-width="0.8"/>
<line x1="59.14" y1="339.9" x2="59.14" y2="341.9" stroke="#333" stroke-width="0.8"/>
<line x1="64.37" y1="339.9" x2="64.37" y2="341.9" stroke="#333" stroke-width="0.8"/>
<line x1="69.61" y1="339.9" x2="69.61" y2="341.9" stroke="#333" stroke-width="0.8"/>
<line x1="74.84" y1="339.9" x2="74.84" y2="341.9" stroke="#333" stroke-width="0.8"/>
<line x1="80.08" y1="339.9" x2="80.08" y2="341.9" stroke="#333" stroke-width="0.8"/>
<line x1="85.32" y1="339.9" x2="85.32" y2="341.9" stroke="#333" stroke-width="0.8"/>
<line x1="90.55" y1="339.9" x2="90.55" y2="341.9" stroke="#333" stroke-width="0.8"/>
<line x1="95.79" y1="339.9" x2="95.79" y2="341.9" stroke="#333" stroke-width="0.8"/>
<line x1="101.02" y1="339.9" x2="101.02" y2="341.9" stroke="#333" stroke-width="0.8"/>
<line x1="106.26" y1="339.9" x2="106.26" y2="343.5" stroke="#333" stroke-width="0.8"/>
<line x1="111.5" y1="339.9" x2="111.5" y2="341.9" stroke="#333" stroke-width="0.8"/>
<line x1="116.73" y1="339.9" x2="116.73" y2="341.9" stroke="#333" stroke-width="0.8"/>
<line x1="121.97" y1="339.9" x2="121.97" y2="341.9" stroke="#333" stroke-width="0.8"/>
<line x1="127.2" y1="339.9" x2="127.2" y2="341.9" stroke="#333" stroke-width="0.8"/>
<line x1="132.44" y1="339.9" x2="132.44" y2="341.9" stroke="#333" stroke-width="0.8"/>
<line x1="137.68" y1="339.9" x2="137.68" y2="341.9" stroke="#333" stroke-width="0.8"/>
<line x1="142.91" y1="339.9" x2="142.91" y2="341.9" stroke="#333" stroke-width="0.8"/>
<line x1="148.15" y1="339.9" x2="148.15" y2="341.9" stroke="#333" stroke-width="0.8"/>
<line x1="153.38" y1="339.9" x2="153.38" y2="341.9" stroke="#333" stroke-width="0.8"/>
<line x1="158.62" y1="339.9" x2="158.62" y2="343.5" stroke="#333" stroke-width="0.8"/>
<line x1="163.86" y1="339.9" x2="163.86" y2="341.9" stroke="#333" stroke-width="0.8"/>
<line x1="169.09" y1="339.9" x2="169.09" y2="341.9" stroke="#333" stroke-width="0.8"/>
<line x1="174.33" y1="339.9" x2="174.33" y2="341.9" stroke="#333" stroke-width="0.8"/>
<line x1="179.56" y1="339.9" x2="179.56" y2="341.9" stroke="#333" stroke-width="0.8"/>
<line x1="184.8" y1="339.9" x2="184.8" y2="341.9" stroke="#333" stroke-width="0.8"/>
<line x1="190.04" y1="339.9" x2="190.04" y2="341.9" stroke="#333" stroke-width="0.8"/>
<line x1="195.27" y1="339.9" x2="195.27" y2="341.9" stroke="#333" stroke-width="0.8"/>
<line x1="200.51" y1="339.9" x2="200.51" y2="341.9" stroke="#333" stroke-width="0.8"/>
<line x1="205.74" y1="339.9" x2="205.74" y2="341.9" stroke="#333" stroke-width="0.8"/>
<line x1="210.98" y1="339.9" x2="210.98" y2="343.5" stroke="#333" stroke-width="0.8"/>
<line x1="216.22" y1="339.9" x2="216.22" y2="341.9" stroke="#333" stroke-width="0.8"/>
<line x1="221.45" y1="339.9" x2="221.45" y2="341.9" stroke="#333" stroke-width="0.8"/>
<line x1="226.69" y1="339.9" x2="226.69" y2="341.9" stroke="#333" stroke-width="0.8"/>
<line x1="231.92" y1="339.9" x2="231.92" y2="341.9" stroke="#333" stroke-width="0.8"/>
<line x1="237.16" y1="339.9" x2="237.16" y2="341.9" stroke="#333" stroke-width="0.8"/>
<line x1="242.4" y1="339.9" x2="242.4" y2="341.9" stroke="#333" stroke-width="0.8"/>
<line x1="247.63" y1="339.9" x2="247.63" y2="341.9" stroke="#333" stroke-width="0.8"/>
<line x1="252.87" y1="339.9" x2="252.87" y2="341.9" stroke="#333" stroke-width="0.8"/>
<line x1="258.1" y1="339.9" x2="258.1" y2="341.9" stroke="#333" stroke-width="0.8"/>
<line x1="263.34" y1="339.9" x2="263.34" y2="343.5" stroke="#333" stroke-width="0.8"/>
<line x1="268.58" y1="339.9" x2="268.58" y2="341.9" stroke="#333" stroke-width="0.8"/>
<line x1="273.81" y1="339.9" x2="273.81" y2="341.9" stroke="#333" stroke-width="0.8"/>
<line x1="279.05" y1="339.9" x2="279.05" y2="341.9" stroke="#333" stroke-width="0.8"/>
<line x1="284.28" y1="339.9" x2="284.28" y2="341.9" stroke="#333" stroke-width="0.8"/>
<line x1="289.52" y1="339.9" x2="289.52" y2="341.9" stroke="#333" stroke-width="0.8"/>
<line x1="294.76" y1="339.9" x2="294.76" y2="341.9" stroke="#333" stroke-width="0.8"/>
<line x1="299.99" y1="339.9" x2="299.99" y2="341.9" stroke="#333" stroke-width="0.8"/>
<line x1="305.23" y1="339.9" x2="305.23" y2="341.9" stroke="#333" stroke-width="0.8"/>
<line x1="310.46" y1="339.9" x2="310.46" y2="341.9" stroke="#333" stroke-width="0.8"/>
<line x1="315.7" y1="339.9" x2="315.7" y2="343.5" stroke="#333" stroke-width="0.8"/>
<line x1="320.94" y1="339.9" x2="320.94" y2="341.9" stroke="#333" stroke-width="0.8"/>
<line x1="326.17" y1="339.9" x2="326.17" y2="341.9" stroke="#333" stroke-width="0.8"/>
<line x1="331.41" y1="339.9" x2="331.41" y2="341.9" stroke="#333" stroke-width="0.8"/>
<line x1="336.64" y1="339.9" x2="336.64" y2="341.9" stroke="#333" stroke-width="0.8"/>
<text transform="translate(51,349.86) scale(1,1)" font-size="6.6" fill="#4a4a4a" color="#4a4a4a" textLength="5" lengthAdjust="spacingAndGlyphs" style="stroke-width:0.12px">10</text>
<text transform="translate(103.36,349.86) scale(1,1)" font-size="6.6" fill="#4a4a4a" color="#4a4a4a" textLength="5" lengthAdjust="spacingAndGlyphs" style="stroke-width:0.12px">20</text>
<text transform="translate(155.72,349.86) scale(1,1)" font-size="6.6" fill="#4a4a4a" color="#4a4a4a" textLength="5" lengthAdjust="spacingAndGlyphs" style="stroke-width:0.12px">30</text>
<text transform="translate(208.08,349.86) scale(1,1)" font-size="6.6" fill="#4a4a4a" color="#4a4a4a" textLength="5" lengthAdjust="spacingAndGlyphs" style="stroke-width:0.12px">40</text>
<text transform="translate(260.44,349.86) scale(1,1)" font-size="6.6" fill="#4a4a4a" color="#4a4a4a" textLength="5" lengthAdjust="spacingAndGlyphs" style="stroke-width:0.12px">50</text>
<text transform="translate(312.8,349.86) scale(1,1)" font-size="6.6" fill="#4a4a4a" color="#4a4a4a" textLength="5" lengthAdjust="spacingAndGlyphs" style="stroke-width:0.12px">60</text>
<line x1="18.8" y1="339.6" x2="22.4" y2="339.6" stroke="#333" stroke-width="0.8"/>
<text transform="translate(13.85,341.63) scale(1,1)" font-size="6.8" fill="#4a4a4a" color="#4a4a4a" textLength="2.75" lengthAdjust="spacingAndGlyphs" style="stroke-width:0.12px">0</text>
<line x1="18.8" y1="286.2" x2="22.4" y2="286.2" stroke="#333" stroke-width="0.8"/>
<text transform="translate(11.1,288.23) scale(1,1)" font-size="6.8" fill="#4a4a4a" color="#4a4a4a" textLength="5.5" lengthAdjust="spacingAndGlyphs" style="stroke-width:0.12px">50</text>
<line x1="18.8" y1="232" x2="22.4" y2="232" stroke="#333" stroke-width="0.8"/>
<text transform="translate(8.35,234.03) scale(1,1)" font-size="6.8" fill="#4a4a4a" color="#4a4a4a" textLength="8.25" lengthAdjust="spacingAndGlyphs" style="stroke-width:0.12px">100</text>
<text transform="translate(12.15,273.7) rotate(-90)" font-size="8.8" fill="#222" color="#222" textLength="29.1" lengthAdjust="spacingAndGlyphs" style="stroke-width:0.16px">Counts</text>
<text transform="translate(191.3,352.96) scale(1,0.9)" font-size="9.5" fill="#222" color="#222" textLength="11.9" lengthAdjust="spacingAndGlyphs">2<tspan font-size="7.41" dy="0">θ</tspan>°</text>
<text transform="translate(7.5,191.37) scale(1,1)" font-size="11.3" fill="#ea1f27" color="#ea1f27" textLength="13.6" lengthAdjust="spacingAndGlyphs" style="stroke-width:0.25px">(c)</text>
<text transform="translate(70.25,311.8) rotate(-90)" font-size="8.8" fill="#1a1a1a" color="#1a1a1a" textLength="28.9" lengthAdjust="spacingAndGlyphs" style="stroke-width:0.16px">Qz  Ka</text>
<text transform="translate(113.95,311.7) rotate(-90)" font-size="8.8" fill="#1a1a1a" color="#1a1a1a" textLength="29.5" lengthAdjust="spacingAndGlyphs" style="stroke-width:0.16px">Ka  Ua</text>
<text transform="translate(134.15,323.7) rotate(-90)" font-size="8.8" fill="#1a1a1a" color="#1a1a1a" textLength="44.6" lengthAdjust="spacingAndGlyphs" style="stroke-width:0.16px">Zr  Ua  Ka</text>
<text transform="translate(139.65,222.2) rotate(-90)" font-size="8.8" fill="#1a1a1a" color="#1a1a1a" textLength="23.8" lengthAdjust="spacingAndGlyphs" style="stroke-width:0.16px">Qz  Zr</text>
<text transform="translate(149.45,314.7) rotate(-90)" font-size="8.8" fill="#1a1a1a" color="#1a1a1a" textLength="29.7" lengthAdjust="spacingAndGlyphs" style="stroke-width:0.16px">Ua  Ka</text>
<text transform="translate(165.95,326.6) rotate(-90)" font-size="8.8" fill="#1a1a1a" color="#1a1a1a" textLength="10.4" lengthAdjust="spacingAndGlyphs" style="stroke-width:0.16px">Ua</text>
<text transform="translate(196.15,325.3) rotate(-90)" font-size="8.8" fill="#1a1a1a" color="#1a1a1a" textLength="10.4" lengthAdjust="spacingAndGlyphs" style="stroke-width:0.16px">Qz</text>
<text transform="translate(210.95,327.3) rotate(-90)" font-size="8.8" fill="#1a1a1a" color="#1a1a1a" textLength="10.4" lengthAdjust="spacingAndGlyphs" style="stroke-width:0.16px">Qz</text>
<text transform="translate(267.15,319.1) rotate(-90)" font-size="8.8" fill="#1a1a1a" color="#1a1a1a" textLength="43" lengthAdjust="spacingAndGlyphs" style="stroke-width:0.16px">Qz  Zr  Ua</text>
<text transform="translate(292.15,329.9) rotate(-90)" font-size="8.8" fill="#1a1a1a" color="#1a1a1a" textLength="36.4" lengthAdjust="spacingAndGlyphs" style="stroke-width:0.16px">Qz  Ua  Is</text>
<text transform="translate(319.05,313.7) rotate(-90)" font-size="8.8" fill="#1a1a1a" color="#1a1a1a" textLength="41.7" lengthAdjust="spacingAndGlyphs" style="stroke-width:0.16px">Qz  Ua  Is</text>
<rect x="262.4" y="198.9" width="75.6" height="48.6" fill="#fff" stroke="#dcdcdc" stroke-width="0.8"/>
<text transform="translate(264.3,207.76) scale(1,0.95)" font-size="9" fill="#1a1a1a" color="#1a1a1a" textLength="50.4" lengthAdjust="spacingAndGlyphs" style="stroke-width:0.14px">Qz — Quartz</text>
<text transform="translate(265.1,217.39) scale(1,0.95)" font-size="9" fill="#1a1a1a" color="#1a1a1a" textLength="44.9" lengthAdjust="spacingAndGlyphs" style="stroke-width:0.14px">Zr <tspan fill="#808080" color="#808080">—</tspan> Zircon</text>
<text transform="translate(265.6,227.01) scale(1,0.95)" font-size="9" fill="#1a1a1a" color="#1a1a1a" textLength="56.6" lengthAdjust="spacingAndGlyphs" style="stroke-width:0.14px">Ka — Kaolinite</text>
<text transform="translate(264.7,236.64) scale(1,0.95)" font-size="9" fill="#1a1a1a" color="#1a1a1a" textLength="72.1" lengthAdjust="spacingAndGlyphs" style="stroke-width:0.14px">Ua --- Uranophane</text>
<text transform="translate(266.7,246.26) scale(1,0.95)" font-size="9" fill="#1a1a1a" color="#1a1a1a" textLength="62.6" lengthAdjust="spacingAndGlyphs" style="stroke-width:0.14px">Is <tspan fill="#b0b0b0" color="#b0b0b0">—</tspan> Ishikawaite</text>
<clipPath id="cd"><rect x="360.4" y="193.6" width="321.9" height="146.4"/></clipPath>
<line x1="403.8" y1="183.9" x2="403.8" y2="193.6" stroke="#f1c46a" stroke-width="0.9"/>
<path d="M402.3,180.3 L403.8,181.5 L405.3,180.3 L403.8,183.5 Z M403.8,183.1 V184.1" fill="#4a4a4a" stroke="#4a4a4a" stroke-width="0.4"/>
<line x1="449.3" y1="183.9" x2="449.3" y2="193.6" stroke="#f1c46a" stroke-width="0.9"/>
<path d="M447.8,180.3 L449.3,181.5 L450.8,180.3 L449.3,183.5 Z M449.3,183.1 V184.1" fill="#4a4a4a" stroke="#4a4a4a" stroke-width="0.4"/>
<line x1="470.4" y1="183.9" x2="470.4" y2="193.6" stroke="#f1c46a" stroke-width="0.9"/>
<path d="M468.9,180.3 L470.4,181.5 L471.9,180.3 L470.4,183.5 Z M470.4,183.1 V184.1" fill="#4a4a4a" stroke="#4a4a4a" stroke-width="0.4"/>
<line x1="480.2" y1="183.9" x2="480.2" y2="193.6" stroke="#f1c46a" stroke-width="0.9"/>
<path d="M478.7,180.3 L480.2,181.5 L481.7,180.3 L480.2,183.5 Z M480.2,183.1 V184.1" fill="#4a4a4a" stroke="#4a4a4a" stroke-width="0.4"/>
<line x1="484.4" y1="183.9" x2="484.4" y2="193.6" stroke="#f1c46a" stroke-width="0.9"/>
<path d="M482.9,180.3 L484.4,181.5 L485.9,180.3 L484.4,183.5 Z M484.4,183.1 V184.1" fill="#4a4a4a" stroke="#4a4a4a" stroke-width="0.4"/>
<line x1="531.7" y1="183.9" x2="531.7" y2="193.6" stroke="#f1c46a" stroke-width="0.9"/>
<path d="M530.2,180.3 L531.7,181.5 L533.2,180.3 L531.7,183.5 Z M531.7,183.1 V184.1" fill="#4a4a4a" stroke="#4a4a4a" stroke-width="0.4"/>
<line x1="547.5" y1="183.9" x2="547.5" y2="193.6" stroke="#f1c46a" stroke-width="0.9"/>
<path d="M546,180.3 L547.5,181.5 L549,180.3 L547.5,183.5 Z M547.5,183.1 V184.1" fill="#4a4a4a" stroke="#4a4a4a" stroke-width="0.4"/>
<line x1="562.5" y1="183.9" x2="562.5" y2="193.6" stroke="#f1c46a" stroke-width="0.9"/>
<path d="M561,180.3 L562.5,181.5 L564,180.3 L562.5,183.5 Z M562.5,183.1 V184.1" fill="#4a4a4a" stroke="#4a4a4a" stroke-width="0.4"/>
<line x1="580" y1="183.9" x2="580" y2="193.6" stroke="#f1c46a" stroke-width="0.9"/>
<path d="M578.5,180.3 L580,181.5 L581.5,180.3 L580,183.5 Z M580,183.1 V184.1" fill="#4a4a4a" stroke="#4a4a4a" stroke-width="0.4"/>
<line x1="604.4" y1="183.9" x2="604.4" y2="193.6" stroke="#f1c46a" stroke-width="0.9"/>
<path d="M602.9,180.3 L604.4,181.5 L605.9,180.3 L604.4,183.5 Z M604.4,183.1 V184.1" fill="#4a4a4a" stroke="#4a4a4a" stroke-width="0.4"/>
<line x1="628.7" y1="183.9" x2="628.7" y2="193.6" stroke="#f1c46a" stroke-width="0.9"/>
<path d="M627.2,180.3 L628.7,181.5 L630.2,180.3 L628.7,183.5 Z M628.7,183.1 V184.1" fill="#4a4a4a" stroke="#4a4a4a" stroke-width="0.4"/>
<line x1="656.2" y1="183.9" x2="656.2" y2="193.6" stroke="#f1c46a" stroke-width="0.9"/>
<path d="M654.7,180.3 L656.2,181.5 L657.7,180.3 L656.2,183.5 Z M656.2,183.1 V184.1" fill="#4a4a4a" stroke="#4a4a4a" stroke-width="0.4"/>
<line x1="677.9" y1="183.9" x2="677.9" y2="193.6" stroke="#f1c46a" stroke-width="0.9"/>
<path d="M676.4,180.3 L677.9,181.5 L679.4,180.3 L677.9,183.5 Z M677.9,183.1 V184.1" fill="#4a4a4a" stroke="#4a4a4a" stroke-width="0.4"/>
<g clip-path="url(#cd)" fill="none" stroke-linejoin="round">
<line x1="480.8" y1="193.6" x2="480.8" y2="334.31" stroke="#f0bb55" stroke-width="0.8"/>
<path d="M391.1,319.66 395.6,319.81 398,319.8 399.2,319.59 399.7,319.35 400.1,319.03 400.8,318.05 401.4,316.64 402,314.65 403.5,308.59 404,307.32 404.2,307.08 404.4,307 404.6,307.1 404.8,307.37 405.3,308.75 406.8,315.26 407.4,317.44 408,319.04 408.7,320.23 409.4,320.92 410.3,321.43 413,322.33 417.7,324.25 M443.5,331.74 445.8,331.93 447.1,331.91 447.6,331.72 447.9,331.22 448.2,329.85 448.4,328.09 449,319.59 449.2,317.75 449.3,317.5 449.4,317.77 449.6,319.66 450.2,328.29 450.4,330.09 450.7,331.53 451,332.09 451.5,332.4 452.8,332.7 455.1,333.02 M463.8,333.7 467.7,333.58 468.3,333.45 468.7,333.13 469,332.53 469.3,331.37 470.2,325.17 470.4,324.41 470.5,324.31 470.6,324.41 470.8,325.17 471.7,331.36 472,332.51 472.3,333.09 472.6,333.35 473.1,333.49 474.9,333.4 476.3,332.99 476.8,332.69 477.2,332.31 M473,333.47 474.3,333.48 475.6,333.25 476.5,332.88 477.2,332.31 477.6,331.62 477.9,330.53 478.3,327.08 478.6,321.43 478.9,311.49 479.9,251.35 480.1,242.93 480.3,239.88 480.5,242.92 480.7,251.33 481.7,311.41 482,321.31 482.3,326.9 482.6,329.68 482.9,330.86 483.1,331.07 483.2,331.01 483.5,329.83 483.9,324.71 484.5,312.01 484.7,310.57 484.9,312.18 485.5,325.43 485.9,331.01 486.1,332.27 486.4,333.14 486.8,333.54 487.6,333.86 M478.9,311.49 479.9,251.35 480.1,242.93 480.3,239.88 480.5,242.92 480.7,251.33 481.7,311.41 482,321.31 482.4,328.07 482.6,329.68 482.9,330.86 483.1,331.07 483.2,331.01 483.5,329.83 483.9,324.71 484.5,312.01 484.7,310.57 484.8,311 485,313.95 485.6,327.28 485.8,330.05 486.1,332.27 486.4,333.14 486.6,333.39 487,333.65 488.3,334.01 490.5,334.27 M527.2,335.61 530.8,335.55 531.3,335.46 531.6,335.28 531.9,334.8 532.1,334.19 532.7,331.23 533,330.5 533.3,331.24 533.9,334.19 534.1,334.81 534.4,335.29 534.7,335.48 535.3,335.57 538.8,335.65 M542.2,335.66 545.7,335.62 546.3,335.53 546.6,335.37 546.9,334.93 547.1,334.37 547.7,331.67 548,331 548.3,331.67 548.9,334.37 549.1,334.94 549.4,335.38 549.7,335.55 550.3,335.64 553.8,335.71 M557.7,335.72 561.2,335.68 561.8,335.59 562.1,335.42 562.4,334.98 562.6,334.41 563.2,331.68 563.5,331 563.8,331.68 564.4,334.42 564.6,334.98 564.9,335.43 565.2,335.6 565.8,335.69 569.3,335.77 M575.2,335.8 578.7,335.77 579.6,335.62 579.9,335.36 580.1,335.02 580.7,333.4 581,333 581.3,333.4 581.9,335.03 582.1,335.37 582.4,335.64 583.3,335.79 586.8,335.83 M596,335.83 600.7,335.65 601.5,335.42 602,334.97 602.4,334.16 602.8,332.69 604,325.01 604.3,323.76 604.5,323.5 604.7,323.76 605,325.01 606.2,332.7 606.6,334.16 607,334.98 607.5,335.43 608.3,335.66 613,335.86 M619.9,335.9 625,335.88 626.6,335.73 627.5,335.3 629,333.62 629.3,333.38 629.6,333.3 629.9,333.39 630.2,333.62 631.6,335.22 632.5,335.71 634,335.88 639.3,335.94 M648.8,335.94 653,335.87 653.7,335.77 654.1,335.59 654.4,335.3 654.7,334.77 655.7,331.6 655.9,331.16 656.1,331 656.3,331.16 656.5,331.6 657.5,334.77 657.8,335.3 658.1,335.6 658.5,335.78 659.2,335.88 663.4,335.96 M670.1,335.97 674.3,335.93 675.4,335.77 676,335.27 677,333.36 677.2,333.1 677.4,333 677.7,333.21 678.6,334.97 679.2,335.66 680,335.91 682.3,335.98" stroke="#8a2a9a" stroke-width="0.8" opacity="0.75"/>
<path d="M386.3,319.38 392.2,319.61 395.4,319.62 397,319.41 398.2,318.87 399.1,318.01 400,316.57 400.9,314.46 403.2,307.9 403.9,306.74 404.2,306.53 404.5,306.52 405,306.92 405.7,308.41 407.8,315.11 408.7,317.56 409.5,319.19 410.4,320.44 411.3,321.24 412.3,321.81 416.1,323.51 422.5,326.11 M443.5,331.75 445.8,331.93 447.1,331.93 447.6,331.75 447.9,331.28 448.2,330 448.4,328.35 449,320.37 449.2,318.63 449.3,318.4 449.4,318.65 449.6,320.43 450.2,328.55 450.4,330.24 450.7,331.59 451,332.12 451.5,332.41 452.8,332.7 455.1,333.02 M463.8,333.7 467,333.73 467.1,333.64 468.2,333.5 468.7,333.14 469,332.55 469.3,331.39 470.2,325.19 470.4,324.43 470.5,324.33 470.6,324.43 470.8,325.2 471.7,331.39 472,332.54 472.3,333.13 472.6,333.39 473,333.52 474.8,333.5 476.2,333.16 477.2,332.54 M474.2,333.55 475.5,333.38 476.5,333.03 477.2,332.54 477.8,331.75 478.2,330.65 478.4,329.51 478.7,325.68 479,315.94 479.2,303.53 480,207.44 480.2,191.98 480.3,191.6 480.4,191.98 480.6,207.42 481.4,303.48 481.6,315.88 481.9,325.59 482.1,328.5 482.4,330.47 482.7,331.27 483,331.55 483.2,331.41 483.4,330.82 483.8,327.15 484.4,315.45 484.6,312.9 484.7,312.58 484.8,312.98 485,315.68 485.7,329.3 486,331.98 486.2,332.83 486.4,333.27 M478.9,320.16 479.2,303.53 479.4,284.88 480.1,198.04 480.2,191.98 480.3,191.6 480.4,191.98 480.6,207.42 481.4,303.48 481.7,320.09 482,327.29 482.3,330.01 482.6,331.08 482.9,331.51 483.1,331.52 483.4,330.82 483.8,327.15 484.4,315.45 484.6,312.9 484.7,312.58 484.8,312.98 485,315.68 485.6,327.9 485.8,330.44 486.1,332.47 486.4,333.27 486.6,333.5 487,333.74 488.3,334.07 490.5,334.3 M527.2,335.61 530.8,335.55 531.3,335.46 531.6,335.28 531.9,334.8 532.1,334.19 532.7,331.23 533,330.5 533.3,331.24 533.9,334.19 534.1,334.81 534.4,335.29 534.7,335.48 535.3,335.57 538.8,335.65 M542.2,335.66 545.7,335.62 546.3,335.53 546.6,335.37 546.9,334.93 547.1,334.37 547.7,331.67 548,331 548.3,331.67 548.9,334.37 549.1,334.94 549.4,335.38 549.7,335.55 550.3,335.64 553.8,335.71 M557.7,335.72 561.2,335.68 561.8,335.59 562.1,335.42 562.4,334.98 562.6,334.41 563.2,331.68 563.5,331 563.8,331.68 564.4,334.42 564.6,334.98 564.9,335.43 565.2,335.6 565.8,335.69 569.3,335.77 M575.2,335.8 578.7,335.77 579.6,335.62 579.9,335.36 580.1,335.02 580.7,333.4 581,333 581.3,333.4 581.9,335.03 582.1,335.37 582.4,335.64 583.3,335.79 586.8,335.82 M594.8,335.82 598.2,335.75 600.1,335.61 601,335.34 601.6,334.77 602.1,333.71 602.5,332.29 603.9,324.22 604.2,323.03 604.5,322.6 604.8,323.03 605.1,324.22 606.5,332.3 606.9,333.72 607.4,334.77 608,335.35 608.9,335.62 610.8,335.77 614.2,335.85 M619.9,335.89 625,335.88 626.6,335.73 627.5,335.3 629,333.62 629.3,333.38 629.6,333.3 629.9,333.39 630.2,333.62 631.6,335.22 632.5,335.71 634,335.88 639.3,335.94 M648.8,335.94 653,335.89 653.7,335.81 654.1,335.67 654.4,335.43 654.7,335.01 655.7,332.48 655.9,332.13 656.1,332 656.3,332.13 656.5,332.48 657.5,335.02 657.8,335.43 658.1,335.67 658.5,335.82 659.2,335.9 663.4,335.96 M670.1,335.97 674.3,335.94 675.4,335.8 676,335.39 677,333.8 677.4,333.5 677.7,333.68 678.6,335.14 679.2,335.72 680,335.92 682.3,335.98" stroke="#4a4ae6" stroke-width="0.8" opacity="0.85"/>
<path d="M360.4,294.81 362.9,294.78 365.4,295.24 367.9,295.14 372.9,303.4 377.9,312.05 380.4,316.74 382.9,318.55 385.4,319.02 387.9,318.48 390.4,318.75 392.9,317.92 395.4,318.37 397.9,317.92 400.4,317.76 401.1,317.52 401.5,317.24 401.8,316.88 402.4,315.48 402.9,313.4 403.9,308.11 404.2,307.19 404.4,307 404.7,307.4 405,308.51 406,314.1 406.5,316.2 407,317.48 407.7,318.4 408.6,319.1 410.4,320.24 412.9,321.48 415.4,322.97 417.9,323.42 420.4,325.15 422.9,325.92 425.4,327.24 427.9,328.39 430.4,328.93 432.9,329.96 441.5,331.28 442.5,331.32 443.1,331.2 443.5,330.95 444.3,330.07 444.7,329.93 445,330.15 445.6,331 446.1,331.48 446.7,331.65 447.3,331.5 447.6,331.26 447.8,330.93 448.2,329.24 448.5,326.15 449,318.37 449.2,316.43 449.3,316.18 449.4,316.49 449.6,318.56 450.3,329.04 450.6,331.08 450.8,331.71 451.1,332.12 451.8,332.39 455.4,333.06 457.9,333.1 459.3,333.23 459.7,333.18 460.1,333.01 461.1,331.97 461.5,331.77 461.8,331.91 462.8,333.09 463.4,333.46 465.4,333.62 467.4,333.49 468.3,333.3 468.8,332.8 469.2,331.61 470.2,324.72 470.4,323.93 470.5,323.84 470.8,324.77 471.6,330.72 472,332.51 472.3,333.16 472.7,333.54 473,333.63 473.7,333.55 475.4,333.07 476.5,332.95 477.2,332.55 477.5,332.09 477.7,331.54 478.1,329.24 478.5,324.15 478.8,317.58 479.9,278.93 480.1,274.5 480.3,272.91 480.5,274.48 480.7,278.91 481.8,317.6 482.1,324.17 482.5,329.23 482.7,330.61 483,331.68 483.2,331.82 483.3,331.71 483.5,331.08 483.9,327.43 484.5,318.29 484.7,317.24 484.8,317.54 485,319.62 485.5,327.75 485.8,331.02 486.2,332.85 486.5,333.27 486.9,333.46 489.9,333.83 493.2,333.93 493.8,333.7 494.7,332.79 495,332.67 495.3,332.83 496.1,333.71 496.5,333.85 497.1,333.42 497.7,332.53 498,332.34 498.3,332.5 499.1,333.61 499.5,333.76 499.9,333.47 500.6,332.48 500.9,332.36 501.2,332.6 502.2,334.18 502.9,334.63 505.4,334.53 509.2,335.11 509.8,334.99 510.8,334.37 511.1,334.29 511.5,334.44 512.4,335.14 513,335.37 517.9,335.7 520.2,335.48 521,335.21 521.6,334.57 522.5,332.97 522.8,332.77 523,332.86 523.2,333.13 524.2,334.95 524.8,335.42 525.2,335.45 525.5,335.31 525.9,334.85 526.6,333.74 527,333.45 527.3,333.61 528.2,334.91 528.7,335.35 529.4,335.53 531,335.49 531.5,335.34 531.9,334.76 532.2,333.67 532.7,330.95 533,330.16 533.1,330.25 533.3,330.94 534,334.47 534.3,335.14 534.6,335.4 535.1,335.5 535.7,335.47 536.6,335.32 537.1,335.13 537.6,334.69 538.6,333.18 538.8,332.99 539,332.95 539.4,333.33 540.1,334.66 540.5,335.22 541.1,335.51 541.8,335.46 542.2,335.27 542.6,334.83 543.6,332.8 543.8,332.53 544,332.43 544.2,332.55 544.4,332.85 545.4,334.96 545.8,335.32 546.2,335.41 546.5,335.31 546.7,335.12 547,334.47 547.7,331.16 547.9,330.5 548,330.42 548.3,331.15 549,334.41 549.3,335.03 549.6,335.26 550.1,335.24 550.5,334.97 550.9,334.41 551.6,333.07 552,332.72 552.2,332.81 552.4,333.05 553.4,334.79 553.9,335.15 554.3,335.11 554.6,334.9 555.7,333.16 556,332.94 556.3,333.09 557.2,334.51 557.8,335.03 558.5,335.21 560.4,335.24 561.7,335.45 562,335.38 562.2,335.23 562.5,334.63 563.3,330.86 563.5,330.48 563.6,330.55 563.8,331.19 564.3,333.74 564.6,334.75 565,335.27 565.7,335.42 567.4,335.54 568.3,335.43 568.8,335.09 569.6,334.17 570,333.98 570.3,334.16 571.3,335.36 572,335.74 575.4,335.78 577.9,336.05 579.1,335.93 579.6,335.76 579.9,335.47 580.2,334.86 580.7,333.41 581,332.99 581.3,333.42 581.8,334.87 582.1,335.46 582.4,335.74 582.9,335.88 585.4,335.36 588.4,335.27 588.8,335.12 589.6,334.55 589.9,334.47 590.2,334.57 591.3,335.46 592,335.67 595.4,335.38 597.9,335.45 601.1,335.35 601.6,335.23 602,334.93 602.3,334.47 602.6,333.7 603.1,331.5 604,325.9 604.3,324.74 604.5,324.49 604.7,324.72 604.9,325.39 606,331.84 606.3,333.13 606.7,334.24 607,334.7 607.4,335 610.4,335.91 612.3,335.79 613.3,335.61 613.8,335.29 614.6,334.43 615,334.26 615.4,334.51 616.5,335.74 616.9,335.94 617.4,336.05 617.9,336.07 618.3,335.92 619.7,334.89 620.1,334.74 620.4,334.76 621.6,335.6 622.9,335.97 625.4,335.37 626.3,335.57 627,335.59 627.5,335.43 627.9,335.18 629.1,333.45 629.4,333.18 629.7,333.08 630,333.15 630.4,333.44 631.2,334.47 631.8,335.05 632.3,335.34 632.9,335.52 638.2,335.43 638.7,335.32 639.9,334.79 640.2,334.84 641.6,335.48 642.9,335.48 645.4,335.97 650.4,335.71 652.7,335.89 653.5,335.86 654.1,335.61 654.6,334.87 655,333.64 655.7,330.64 655.9,330.04 656.1,329.8 656.3,329.95 656.5,330.46 657.3,333.61 657.8,334.78 658.2,335.28 658.6,335.55 660.4,336.12 662.9,335.61 665.4,335.45 666.3,335.49 666.8,335.28 667.6,334.61 668,334.48 668.4,334.65 669.3,335.53 669.9,335.81 671.7,335.89 675.1,335.87 675.6,335.66 676,335.21 677,332.92 677.2,332.6 677.4,332.5 677.6,332.63 677.8,332.99 678.7,335.18 679.2,335.83 679.5,336 680,336.11 682.3,336.18" stroke="#d62a3e" stroke-width="0.8" opacity="0.85"/>
<path d="M360.4,296.8 381.5,319.2 405,320.5 413,322.5 431.5,329.7 440,331.4 460,333.6 480,334.3 500,334.7 520,335.6 600,335.9 682.3,336" stroke="#5cb85c" stroke-width="0.9" opacity="0.9"/>
<line x1="404.4" y1="299.5" x2="404.4" y2="320.47" stroke="#f0bb55" stroke-width="0.8"/>
<line x1="449.3" y1="315.5" x2="449.3" y2="332.42" stroke="#f0bb55" stroke-width="0.8"/>
<line x1="470.5" y1="323.3" x2="470.5" y2="333.97" stroke="#f0bb55" stroke-width="0.8"/>
<line x1="484.7" y1="297.5" x2="484.7" y2="334.39" stroke="#f0bb55" stroke-width="0.8"/>
<line x1="533" y1="329" x2="533" y2="335.65" stroke="#f0bb55" stroke-width="0.8"/>
<line x1="548" y1="330" x2="548" y2="335.7" stroke="#f0bb55" stroke-width="0.8"/>
<line x1="563.5" y1="330" x2="563.5" y2="335.76" stroke="#f0bb55" stroke-width="0.8"/>
<line x1="581" y1="332" x2="581" y2="335.83" stroke="#f0bb55" stroke-width="0.8"/>
<line x1="604.5" y1="321" x2="604.5" y2="335.91" stroke="#f0bb55" stroke-width="0.8"/>
<line x1="629.6" y1="331.5" x2="629.6" y2="335.94" stroke="#f0bb55" stroke-width="0.8"/>
<line x1="656.1" y1="328.5" x2="656.1" y2="335.97" stroke="#f0bb55" stroke-width="0.8"/>
<line x1="677.4" y1="331" x2="677.4" y2="335.99" stroke="#f0bb55" stroke-width="0.8"/>
</g>
<path d="M360.4,340 V193.6 H682.3 V340 H360.4" fill="none" stroke="#2a2a2a" stroke-width="1.2"/>
<line x1="360.38" y1="340" x2="360.38" y2="342" stroke="#333" stroke-width="0.8"/>
<line x1="365.65" y1="340" x2="365.65" y2="342" stroke="#333" stroke-width="0.8"/>
<line x1="370.92" y1="340" x2="370.92" y2="342" stroke="#333" stroke-width="0.8"/>
<line x1="376.19" y1="340" x2="376.19" y2="342" stroke="#333" stroke-width="0.8"/>
<line x1="381.46" y1="340" x2="381.46" y2="342" stroke="#333" stroke-width="0.8"/>
<line x1="386.73" y1="340" x2="386.73" y2="342" stroke="#333" stroke-width="0.8"/>
<line x1="392" y1="340" x2="392" y2="343.6" stroke="#333" stroke-width="0.8"/>
<line x1="397.27" y1="340" x2="397.27" y2="342" stroke="#333" stroke-width="0.8"/>
<line x1="402.54" y1="340" x2="402.54" y2="342" stroke="#333" stroke-width="0.8"/>
<line x1="407.81" y1="340" x2="407.81" y2="342" stroke="#333" stroke-width="0.8"/>
<line x1="413.08" y1="340" x2="413.08" y2="342" stroke="#333" stroke-width="0.8"/>
<line x1="418.35" y1="340" x2="418.35" y2="342" stroke="#333" stroke-width="0.8"/>
<line x1="423.62" y1="340" x2="423.62" y2="342" stroke="#333" stroke-width="0.8"/>
<line x1="428.89" y1="340" x2="428.89" y2="342" stroke="#333" stroke-width="0.8"/>
<line x1="434.16" y1="340" x2="434.16" y2="342" stroke="#333" stroke-width="0.8"/>
<line x1="439.43" y1="340" x2="439.43" y2="342" stroke="#333" stroke-width="0.8"/>
<line x1="444.7" y1="340" x2="444.7" y2="343.6" stroke="#333" stroke-width="0.8"/>
<line x1="449.97" y1="340" x2="449.97" y2="342" stroke="#333" stroke-width="0.8"/>
<line x1="455.24" y1="340" x2="455.24" y2="342" stroke="#333" stroke-width="0.8"/>
<line x1="460.51" y1="340" x2="460.51" y2="342" stroke="#333" stroke-width="0.8"/>
<line x1="465.78" y1="340" x2="465.78" y2="342" stroke="#333" stroke-width="0.8"/>
<line x1="471.05" y1="340" x2="471.05" y2="342" stroke="#333" stroke-width="0.8"/>
<line x1="476.32" y1="340" x2="476.32" y2="342" stroke="#333" stroke-width="0.8"/>
<line x1="481.59" y1="340" x2="481.59" y2="342" stroke="#333" stroke-width="0.8"/>
<line x1="486.86" y1="340" x2="486.86" y2="342" stroke="#333" stroke-width="0.8"/>
<line x1="492.13" y1="340" x2="492.13" y2="342" stroke="#333" stroke-width="0.8"/>
<line x1="497.4" y1="340" x2="497.4" y2="343.6" stroke="#333" stroke-width="0.8"/>
<line x1="502.67" y1="340" x2="502.67" y2="342" stroke="#333" stroke-width="0.8"/>
<line x1="507.94" y1="340" x2="507.94" y2="342" stroke="#333" stroke-width="0.8"/>
<line x1="513.21" y1="340" x2="513.21" y2="342" stroke="#333" stroke-width="0.8"/>
<line x1="518.48" y1="340" x2="518.48" y2="342" stroke="#333" stroke-width="0.8"/>
<line x1="523.75" y1="340" x2="523.75" y2="342" stroke="#333" stroke-width="0.8"/>
<line x1="529.02" y1="340" x2="529.02" y2="342" stroke="#333" stroke-width="0.8"/>
<line x1="534.29" y1="340" x2="534.29" y2="342" stroke="#333" stroke-width="0.8"/>
<line x1="539.56" y1="340" x2="539.56" y2="342" stroke="#333" stroke-width="0.8"/>
<line x1="544.83" y1="340" x2="544.83" y2="342" stroke="#333" stroke-width="0.8"/>
<line x1="550.1" y1="340" x2="550.1" y2="343.6" stroke="#333" stroke-width="0.8"/>
<line x1="555.37" y1="340" x2="555.37" y2="342" stroke="#333" stroke-width="0.8"/>
<line x1="560.64" y1="340" x2="560.64" y2="342" stroke="#333" stroke-width="0.8"/>
<line x1="565.91" y1="340" x2="565.91" y2="342" stroke="#333" stroke-width="0.8"/>
<line x1="571.18" y1="340" x2="571.18" y2="342" stroke="#333" stroke-width="0.8"/>
<line x1="576.45" y1="340" x2="576.45" y2="342" stroke="#333" stroke-width="0.8"/>
<line x1="581.72" y1="340" x2="581.72" y2="342" stroke="#333" stroke-width="0.8"/>
<line x1="586.99" y1="340" x2="586.99" y2="342" stroke="#333" stroke-width="0.8"/>
<line x1="592.26" y1="340" x2="592.26" y2="342" stroke="#333" stroke-width="0.8"/>
<line x1="597.53" y1="340" x2="597.53" y2="342" stroke="#333" stroke-width="0.8"/>
<line x1="602.8" y1="340" x2="602.8" y2="343.6" stroke="#333" stroke-width="0.8"/>
<line x1="608.07" y1="340" x2="608.07" y2="342" stroke="#333" stroke-width="0.8"/>
<line x1="613.34" y1="340" x2="613.34" y2="342" stroke="#333" stroke-width="0.8"/>
<line x1="618.61" y1="340" x2="618.61" y2="342" stroke="#333" stroke-width="0.8"/>
<line x1="623.88" y1="340" x2="623.88" y2="342" stroke="#333" stroke-width="0.8"/>
<line x1="629.15" y1="340" x2="629.15" y2="342" stroke="#333" stroke-width="0.8"/>
<line x1="634.42" y1="340" x2="634.42" y2="342" stroke="#333" stroke-width="0.8"/>
<line x1="639.69" y1="340" x2="639.69" y2="342" stroke="#333" stroke-width="0.8"/>
<line x1="644.96" y1="340" x2="644.96" y2="342" stroke="#333" stroke-width="0.8"/>
<line x1="650.23" y1="340" x2="650.23" y2="342" stroke="#333" stroke-width="0.8"/>
<line x1="655.5" y1="340" x2="655.5" y2="343.6" stroke="#333" stroke-width="0.8"/>
<line x1="660.77" y1="340" x2="660.77" y2="342" stroke="#333" stroke-width="0.8"/>
<line x1="666.04" y1="340" x2="666.04" y2="342" stroke="#333" stroke-width="0.8"/>
<line x1="671.31" y1="340" x2="671.31" y2="342" stroke="#333" stroke-width="0.8"/>
<line x1="676.58" y1="340" x2="676.58" y2="342" stroke="#333" stroke-width="0.8"/>
<text transform="translate(389.1,349.86) scale(1,1)" font-size="6.6" fill="#4a4a4a" color="#4a4a4a" textLength="5" lengthAdjust="spacingAndGlyphs" style="stroke-width:0.12px">10</text>
<text transform="translate(441.8,349.86) scale(1,1)" font-size="6.6" fill="#4a4a4a" color="#4a4a4a" textLength="5" lengthAdjust="spacingAndGlyphs" style="stroke-width:0.12px">20</text>
<text transform="translate(494.5,349.86) scale(1,1)" font-size="6.6" fill="#4a4a4a" color="#4a4a4a" textLength="5" lengthAdjust="spacingAndGlyphs" style="stroke-width:0.12px">30</text>
<text transform="translate(547.2,349.86) scale(1,1)" font-size="6.6" fill="#4a4a4a" color="#4a4a4a" textLength="5" lengthAdjust="spacingAndGlyphs" style="stroke-width:0.12px">40</text>
<text transform="translate(599.9,349.86) scale(1,1)" font-size="6.6" fill="#4a4a4a" color="#4a4a4a" textLength="5" lengthAdjust="spacingAndGlyphs" style="stroke-width:0.12px">50</text>
<text transform="translate(652.6,349.86) scale(1,1)" font-size="6.6" fill="#4a4a4a" color="#4a4a4a" textLength="5" lengthAdjust="spacingAndGlyphs" style="stroke-width:0.12px">60</text>
<line x1="356.8" y1="339.6" x2="360.4" y2="339.6" stroke="#333" stroke-width="0.8"/>
<text transform="translate(352.05,341.63) scale(1,1)" font-size="6.8" fill="#4a4a4a" color="#4a4a4a" textLength="2.75" lengthAdjust="spacingAndGlyphs" style="stroke-width:0.12px">0</text>
<line x1="356.8" y1="279.8" x2="360.4" y2="279.8" stroke="#333" stroke-width="0.8"/>
<text transform="translate(349.3,281.83) scale(1,1)" font-size="6.8" fill="#4a4a4a" color="#4a4a4a" textLength="5.5" lengthAdjust="spacingAndGlyphs" style="stroke-width:0.12px">50</text>
<line x1="356.8" y1="220.2" x2="360.4" y2="220.2" stroke="#333" stroke-width="0.8"/>
<text transform="translate(346.55,222.23) scale(1,1)" font-size="6.8" fill="#4a4a4a" color="#4a4a4a" textLength="8.25" lengthAdjust="spacingAndGlyphs" style="stroke-width:0.12px">100</text>
<text transform="translate(354.05,270.7) rotate(-90)" font-size="8.8" fill="#222" color="#222" textLength="28.1" lengthAdjust="spacingAndGlyphs" style="stroke-width:0.16px">Counts</text>
<text transform="translate(530.8,352.96) scale(1,0.9)" font-size="9.5" fill="#222" color="#222" textLength="12.8" lengthAdjust="spacingAndGlyphs">2<tspan font-size="7.41" dy="0">θ</tspan>°</text>
<text transform="translate(346.9,191.87) scale(1,1)" font-size="11.3" fill="#ea1f27" color="#ea1f27" textLength="13.6" lengthAdjust="spacingAndGlyphs" style="stroke-width:0.25px">(d)</text>
<text transform="translate(407.75,300) rotate(-90)" font-size="8.8" fill="#1a1a1a" color="#1a1a1a" textLength="30.3" lengthAdjust="spacingAndGlyphs" style="stroke-width:0.16px">Qz  Ka</text>
<text transform="translate(453.25,314.7) rotate(-90)" font-size="8.8" fill="#1a1a1a" color="#1a1a1a" textLength="44.6" lengthAdjust="spacingAndGlyphs" style="stroke-width:0.16px">Qz  Ka  Ks</text>
<text transform="translate(472.55,323.2) rotate(-90)" font-size="8.8" fill="#1a1a1a" color="#1a1a1a" textLength="7.7" lengthAdjust="spacingAndGlyphs" style="stroke-width:0.16px">Zr</text>
<text transform="translate(479.35,244.5) rotate(-90)" font-size="8.8" fill="#1a1a1a" color="#1a1a1a" textLength="49.4" lengthAdjust="spacingAndGlyphs" style="stroke-width:0.16px">Qz  Zr  Th  Ks</text>
<text transform="translate(488.65,296.6) rotate(-90)" font-size="8.8" fill="#1a1a1a" color="#1a1a1a" textLength="30.1" lengthAdjust="spacingAndGlyphs" style="stroke-width:0.16px">Ka  Ks</text>
<text transform="translate(536.15,327.8) rotate(-90)" font-size="8.8" fill="#1a1a1a" color="#1a1a1a" textLength="26.4" lengthAdjust="spacingAndGlyphs" style="stroke-width:0.16px">Qz  Ks</text>
<text transform="translate(551.05,328.3) rotate(-90)" font-size="8.8" fill="#1a1a1a" color="#1a1a1a" textLength="26.4" lengthAdjust="spacingAndGlyphs" style="stroke-width:0.16px">Qz  Ks</text>
<text transform="translate(566.65,328.3) rotate(-90)" font-size="8.8" fill="#1a1a1a" color="#1a1a1a" textLength="42.5" lengthAdjust="spacingAndGlyphs" style="stroke-width:0.16px">Qz  Xe  Ks</text>
<text transform="translate(584.25,332.7) rotate(-90)" font-size="8.8" fill="#1a1a1a" color="#1a1a1a" textLength="43.3" lengthAdjust="spacingAndGlyphs" style="stroke-width:0.16px">Qz  Zr  Th</text>
<text transform="translate(607.95,321.9) rotate(-90)" font-size="8.8" fill="#1a1a1a" color="#1a1a1a" textLength="45.2" lengthAdjust="spacingAndGlyphs" style="stroke-width:0.16px">Qz  Zr  Xe</text>
<text transform="translate(633.35,332.1) rotate(-90)" font-size="8.8" fill="#1a1a1a" color="#1a1a1a" textLength="56.8" lengthAdjust="spacingAndGlyphs" style="stroke-width:0.16px">Qz  Xe  Th  Ks</text>
<text transform="translate(659.55,329.2) rotate(-90)" font-size="8.8" fill="#1a1a1a" color="#1a1a1a" textLength="27.7" lengthAdjust="spacingAndGlyphs" style="stroke-width:0.16px">Qz  Ks</text>
<text transform="translate(679.95,332.1) rotate(-90)" font-size="8.8" fill="#1a1a1a" color="#1a1a1a" textLength="43.7" lengthAdjust="spacingAndGlyphs" style="stroke-width:0.16px">Qz  Zr  Ks</text>
<rect x="613.4" y="196.9" width="66.6" height="59.2" fill="#fff" stroke="#dcdcdc" stroke-width="0.8"/>
<text transform="translate(616.7,204.76) scale(1,0.95)" font-size="9" fill="#1a1a1a" color="#1a1a1a" textLength="52.3" lengthAdjust="spacingAndGlyphs" style="stroke-width:0.1px">Qz <tspan fill="#a0a0a0" color="#a0a0a0">—</tspan> Quartz</text>
<text transform="translate(618,214.72) scale(1,0.95)" font-size="9" fill="#1a1a1a" color="#1a1a1a" textLength="45.9" lengthAdjust="spacingAndGlyphs" style="stroke-width:0.1px">Zr <tspan fill="#606060" color="#606060">—</tspan> Zircon</text>
<text transform="translate(617.2,224.68) scale(1,0.95)" font-size="9" fill="#1a1a1a" color="#1a1a1a" textLength="51.8" lengthAdjust="spacingAndGlyphs" style="stroke-width:0.1px">Th --- Thorite</text>
<text transform="translate(617.4,234.64) scale(1,0.95)" font-size="9" fill="#1a1a1a" color="#1a1a1a" textLength="58.7" lengthAdjust="spacingAndGlyphs" style="stroke-width:0.1px">Ka --- Kaolinite</text>
<text transform="translate(616.7,244.6) scale(1,0.95)" font-size="9" fill="#1a1a1a" color="#1a1a1a" textLength="62" lengthAdjust="spacingAndGlyphs" style="stroke-width:0.1px">Xe — Xenotime</text>
<text transform="translate(618,254.56) scale(1,0.95)" font-size="9" fill="#1a1a1a" color="#1a1a1a" textLength="55.6" lengthAdjust="spacingAndGlyphs" style="stroke-width:0.1px">Ks — Kasolite</text>
</svg></body></html>
